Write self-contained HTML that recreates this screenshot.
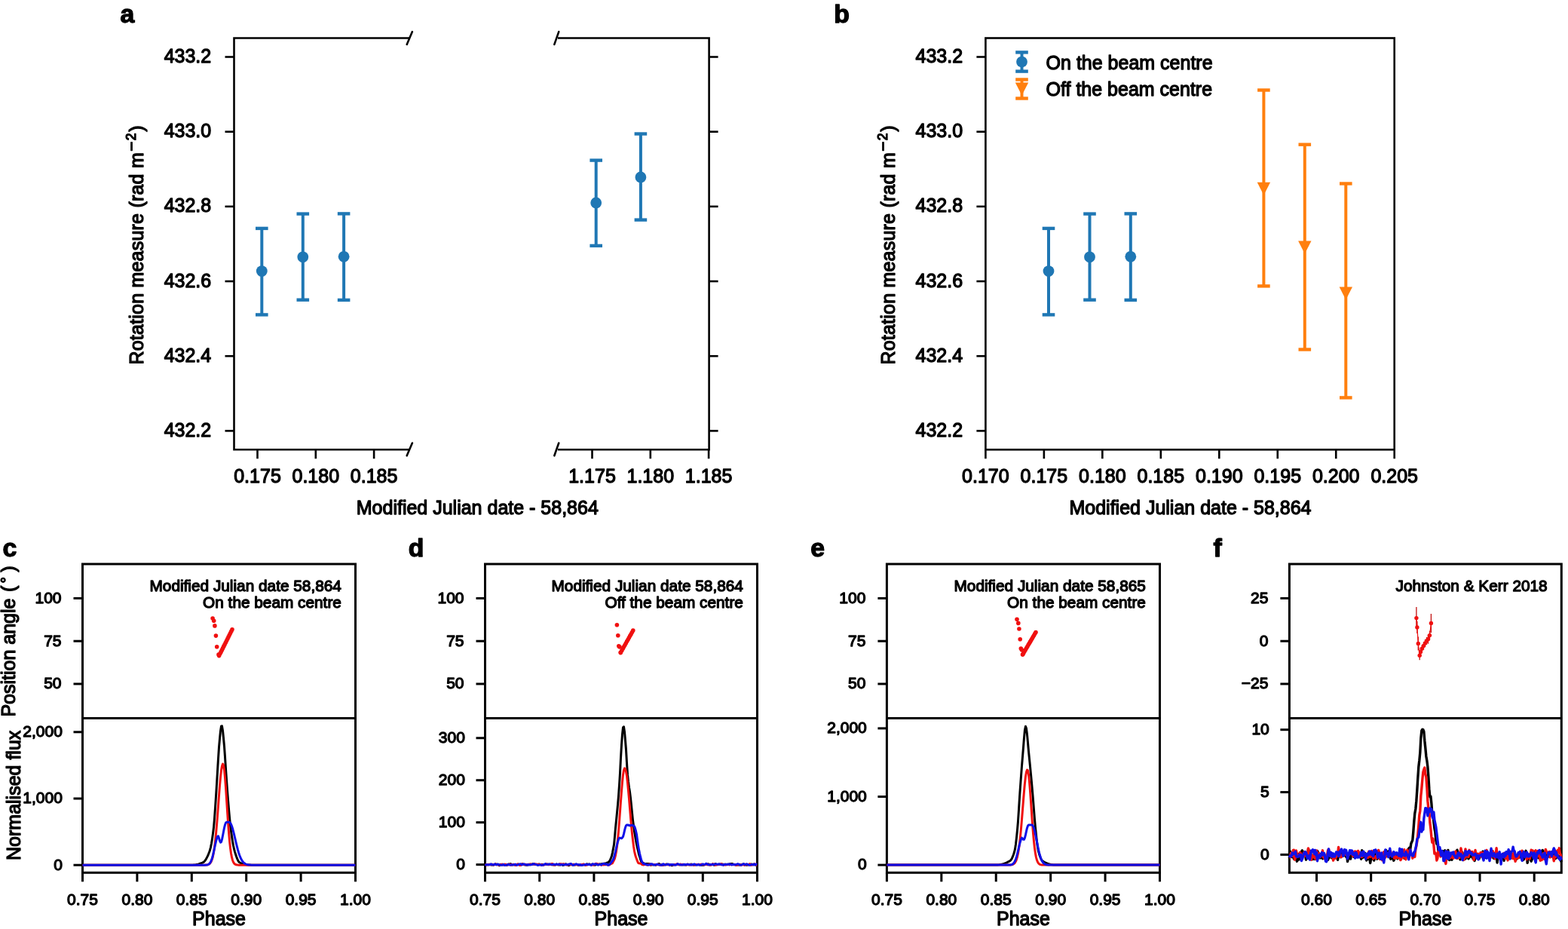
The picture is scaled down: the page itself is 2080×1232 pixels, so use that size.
<!DOCTYPE html>
<html><head><meta charset="utf-8"><title>Rotation measure figure</title>
<style>html,body{margin:0;padding:0;background:#fff;}svg{display:block;}</style>
</head><body>
<svg width="2080" height="1232" viewBox="0 0 2080 1232">
<rect width="2080" height="1232" fill="#fff"/>
<g font-family='"Liberation Sans", Arial, Helvetica, sans-serif' fill="#000" stroke="#000" stroke-width="1.3" stroke-linejoin="round">
<text x="159.6" y="29.7" font-size="33.8" text-anchor="start" font-weight="bold">a</text>
<text x="1106.3" y="30.3" font-size="33.8" text-anchor="start" font-weight="bold">b</text>
<text x="3.6" y="737.8" font-size="33.8" text-anchor="start" font-weight="bold">c</text>
<text x="541.8" y="737.8" font-size="33.8" text-anchor="start" font-weight="bold">d</text>
<text x="1075.2" y="737.8" font-size="33.8" text-anchor="start" font-weight="bold">e</text>
<text x="1609.4" y="737.8" font-size="33.8" text-anchor="start" font-weight="bold">f</text>
<text x="280.2" y="83" font-size="25" text-anchor="end" font-weight="normal">433.2</text>
<text x="1277.1" y="83" font-size="25" text-anchor="end" font-weight="normal">433.2</text>
<text x="280.2" y="182.18" font-size="25" text-anchor="end" font-weight="normal">433.0</text>
<text x="1277.1" y="182.18" font-size="25" text-anchor="end" font-weight="normal">433.0</text>
<text x="280.2" y="281.36" font-size="25" text-anchor="end" font-weight="normal">432.8</text>
<text x="1277.1" y="281.36" font-size="25" text-anchor="end" font-weight="normal">432.8</text>
<text x="280.2" y="380.54" font-size="25" text-anchor="end" font-weight="normal">432.6</text>
<text x="1277.1" y="380.54" font-size="25" text-anchor="end" font-weight="normal">432.6</text>
<text x="280.2" y="479.72" font-size="25" text-anchor="end" font-weight="normal">432.4</text>
<text x="1277.1" y="479.72" font-size="25" text-anchor="end" font-weight="normal">432.4</text>
<text x="280.2" y="578.9" font-size="25" text-anchor="end" font-weight="normal">432.2</text>
<text x="1277.1" y="578.9" font-size="25" text-anchor="end" font-weight="normal">432.2</text>
<text x="341.5" y="640.3" font-size="25" text-anchor="middle" font-weight="normal">0.175</text>
<text x="418.8" y="640.3" font-size="25" text-anchor="middle" font-weight="normal">0.180</text>
<text x="496.1" y="640.3" font-size="25" text-anchor="middle" font-weight="normal">0.185</text>
<text x="785.5" y="640.3" font-size="25" text-anchor="middle" font-weight="normal">1.175</text>
<text x="862.8" y="640.3" font-size="25" text-anchor="middle" font-weight="normal">1.180</text>
<text x="940.1" y="640.3" font-size="25" text-anchor="middle" font-weight="normal">1.185</text>
<text x="1307.4" y="640.3" font-size="25" text-anchor="middle" font-weight="normal">0.170</text>
<text x="1384.87" y="640.3" font-size="25" text-anchor="middle" font-weight="normal">0.175</text>
<text x="1462.34" y="640.3" font-size="25" text-anchor="middle" font-weight="normal">0.180</text>
<text x="1539.81" y="640.3" font-size="25" text-anchor="middle" font-weight="normal">0.185</text>
<text x="1617.29" y="640.3" font-size="25" text-anchor="middle" font-weight="normal">0.190</text>
<text x="1694.76" y="640.3" font-size="25" text-anchor="middle" font-weight="normal">0.195</text>
<text x="1772.23" y="640.3" font-size="25" text-anchor="middle" font-weight="normal">0.200</text>
<text x="1849.7" y="640.3" font-size="25" text-anchor="middle" font-weight="normal">0.205</text>
<text x="633.3" y="682.3" font-size="25" text-anchor="middle" font-weight="normal">Modified Julian date - 58,864</text>
<text x="1579" y="682.3" font-size="25" text-anchor="middle" font-weight="normal">Modified Julian date - 58,864</text>
<text x="189.6" y="483.6" font-size="25" transform="rotate(-90 189.6 483.6)" letter-spacing="0.22">Rotation measure (rad m</text>
<text x="179.9" y="201.4" font-size="17.5" transform="rotate(-90 179.9 201.4)" font-family="DejaVu Sans">−</text>
<text x="179.9" y="186.3" font-size="17.5" transform="rotate(-90 179.9 186.3)">2</text>
<text x="189.6" y="174.8" font-size="25" transform="rotate(-90 189.6 174.8)">)</text>
<text x="1187.2" y="483.6" font-size="25" transform="rotate(-90 1187.2 483.6)" letter-spacing="0.22">Rotation measure (rad m</text>
<text x="1177.5" y="201.4" font-size="17.5" transform="rotate(-90 1177.5 201.4)" font-family="DejaVu Sans">−</text>
<text x="1177.5" y="186.3" font-size="17.5" transform="rotate(-90 1177.5 186.3)">2</text>
<text x="1187.2" y="174.8" font-size="25" transform="rotate(-90 1187.2 174.8)">)</text>
<text x="1387.6" y="91.6" font-size="25" text-anchor="start" font-weight="normal">On the beam centre</text>
<text x="1387.6" y="127.2" font-size="25" text-anchor="start" font-weight="normal">Off the beam centre</text>
<text x="81.5" y="799.72" font-size="21" text-anchor="end" font-weight="normal">100</text>
<text x="81.5" y="856.5" font-size="21" text-anchor="end" font-weight="normal">75</text>
<text x="81.5" y="913.28" font-size="21" text-anchor="end" font-weight="normal">50</text>
<text x="82.9" y="1153.5" font-size="21" text-anchor="end" font-weight="normal">0</text>
<text x="82.9" y="1065.3" font-size="21" text-anchor="end" font-weight="normal">1,000</text>
<text x="82.9" y="977.1" font-size="21" text-anchor="end" font-weight="normal">2,000</text>
<text x="109.5" y="1199.8" font-size="21" text-anchor="middle" font-weight="normal">0.75</text>
<text x="181.9" y="1199.8" font-size="21" text-anchor="middle" font-weight="normal">0.80</text>
<text x="254.3" y="1199.8" font-size="21" text-anchor="middle" font-weight="normal">0.85</text>
<text x="326.7" y="1199.8" font-size="21" text-anchor="middle" font-weight="normal">0.90</text>
<text x="399.1" y="1199.8" font-size="21" text-anchor="middle" font-weight="normal">0.95</text>
<text x="471.5" y="1199.8" font-size="21" text-anchor="middle" font-weight="normal">1.00</text>
<text x="290.5" y="1226.6" font-size="25" text-anchor="middle" font-weight="normal">Phase</text>
<text x="615.5" y="799.72" font-size="21" text-anchor="end" font-weight="normal">100</text>
<text x="615.5" y="856.5" font-size="21" text-anchor="end" font-weight="normal">75</text>
<text x="615.5" y="913.28" font-size="21" text-anchor="end" font-weight="normal">50</text>
<text x="616.9" y="1152.9" font-size="21" text-anchor="end" font-weight="normal">0</text>
<text x="616.9" y="1096.95" font-size="21" text-anchor="end" font-weight="normal">100</text>
<text x="616.9" y="1041" font-size="21" text-anchor="end" font-weight="normal">200</text>
<text x="616.9" y="985.05" font-size="21" text-anchor="end" font-weight="normal">300</text>
<text x="643.5" y="1199.8" font-size="21" text-anchor="middle" font-weight="normal">0.75</text>
<text x="715.7" y="1199.8" font-size="21" text-anchor="middle" font-weight="normal">0.80</text>
<text x="787.9" y="1199.8" font-size="21" text-anchor="middle" font-weight="normal">0.85</text>
<text x="860.1" y="1199.8" font-size="21" text-anchor="middle" font-weight="normal">0.90</text>
<text x="932.3" y="1199.8" font-size="21" text-anchor="middle" font-weight="normal">0.95</text>
<text x="1004.5" y="1199.8" font-size="21" text-anchor="middle" font-weight="normal">1.00</text>
<text x="824" y="1226.6" font-size="25" text-anchor="middle" font-weight="normal">Phase</text>
<text x="1148.4" y="799.72" font-size="21" text-anchor="end" font-weight="normal">100</text>
<text x="1148.4" y="856.5" font-size="21" text-anchor="end" font-weight="normal">75</text>
<text x="1148.4" y="913.28" font-size="21" text-anchor="end" font-weight="normal">50</text>
<text x="1149.8" y="1153.4" font-size="21" text-anchor="end" font-weight="normal">0</text>
<text x="1149.8" y="1062.8" font-size="21" text-anchor="end" font-weight="normal">1,000</text>
<text x="1149.8" y="972.2" font-size="21" text-anchor="end" font-weight="normal">2,000</text>
<text x="1176.4" y="1199.8" font-size="21" text-anchor="middle" font-weight="normal">0.75</text>
<text x="1248.82" y="1199.8" font-size="21" text-anchor="middle" font-weight="normal">0.80</text>
<text x="1321.24" y="1199.8" font-size="21" text-anchor="middle" font-weight="normal">0.85</text>
<text x="1393.66" y="1199.8" font-size="21" text-anchor="middle" font-weight="normal">0.90</text>
<text x="1466.08" y="1199.8" font-size="21" text-anchor="middle" font-weight="normal">0.95</text>
<text x="1538.5" y="1199.8" font-size="21" text-anchor="middle" font-weight="normal">1.00</text>
<text x="1357.45" y="1226.6" font-size="25" text-anchor="middle" font-weight="normal">Phase</text>
<text x="1682.4" y="799.72" font-size="21" text-anchor="end" font-weight="normal">25</text>
<text x="1682.4" y="856.5" font-size="21" text-anchor="end" font-weight="normal">0</text>
<text x="1682.4" y="913.28" font-size="21" text-anchor="end" font-weight="normal">−25</text>
<text x="1683.8" y="1139.7" font-size="21" text-anchor="end" font-weight="normal">0</text>
<text x="1683.8" y="1056.85" font-size="21" text-anchor="end" font-weight="normal">5</text>
<text x="1683.8" y="974" font-size="21" text-anchor="end" font-weight="normal">10</text>
<text x="1746.49" y="1199.8" font-size="21" text-anchor="middle" font-weight="normal">0.60</text>
<text x="1818.67" y="1199.8" font-size="21" text-anchor="middle" font-weight="normal">0.65</text>
<text x="1890.85" y="1199.8" font-size="21" text-anchor="middle" font-weight="normal">0.70</text>
<text x="1963.03" y="1199.8" font-size="21" text-anchor="middle" font-weight="normal">0.75</text>
<text x="2035.21" y="1199.8" font-size="21" text-anchor="middle" font-weight="normal">0.80</text>
<text x="1890.85" y="1226.6" font-size="25" text-anchor="middle" font-weight="normal">Phase</text>
<text x="452.9" y="783.9" font-size="20.8" text-anchor="end" font-weight="normal">Modified Julian date 58,864</text>
<text x="452.9" y="805.9" font-size="20.8" text-anchor="end" font-weight="normal">On the beam centre</text>
<text x="985.9" y="783.9" font-size="20.8" text-anchor="end" font-weight="normal">Modified Julian date 58,864</text>
<text x="985.9" y="805.9" font-size="20.8" text-anchor="end" font-weight="normal">Off the beam centre</text>
<text x="1519.9" y="783.9" font-size="20.8" text-anchor="end" font-weight="normal">Modified Julian date 58,865</text>
<text x="1519.9" y="805.9" font-size="20.8" text-anchor="end" font-weight="normal">On the beam centre</text>
<text x="2052.7" y="783.9" font-size="20.8" text-anchor="end" font-weight="normal">Johnston &amp; Kerr 2018</text>
<text x="19.8" y="950.6" font-size="25" transform="rotate(-90 19.8 950.6)">Position angle</text>
<text x="19.8" y="785" font-size="25" transform="rotate(-90 19.8 785)">(</text>
<text x="15.8" y="773.6" font-size="21" transform="rotate(-90 15.8 773.6)">°</text>
<text x="19.8" y="758.7" font-size="25" transform="rotate(-90 19.8 758.7)">)</text>
<text x="26.8" y="1054.85" font-size="25" text-anchor="middle" font-weight="normal" transform="rotate(-90 26.8 1054.85)">Normalised flux</text>
</g>
<g fill="none" stroke="#000">
<path d="M543 50.5 H310.5 V596.3 H543" stroke-width="2.6" fill="none"/>
<path d="M740 50.5 H940.6 V596.3 H740" stroke-width="2.6" fill="none" stroke-linejoin="miter"/>
<line x1="539.7" y1="58.9" x2="546.9" y2="42.1" stroke="#000" stroke-width="2.6" stroke-linecap="round"/>
<line x1="539.7" y1="604.3" x2="546.9" y2="587.5" stroke="#000" stroke-width="2.6" stroke-linecap="round"/>
<line x1="735.35" y1="58.9" x2="741.25" y2="42.1" stroke="#000" stroke-width="2.6" stroke-linecap="round"/>
<line x1="735.35" y1="604.3" x2="741.25" y2="587.5" stroke="#000" stroke-width="2.6" stroke-linecap="round"/>
<line x1="298.5" y1="75.5" x2="310.5" y2="75.5" stroke="#000" stroke-width="2.6" stroke-linecap="butt"/>
<line x1="940.6" y1="75.5" x2="952.6" y2="75.5" stroke="#000" stroke-width="2.6" stroke-linecap="butt"/>
<line x1="1295.4" y1="75.5" x2="1307.4" y2="75.5" stroke="#000" stroke-width="2.6" stroke-linecap="butt"/>
<line x1="298.5" y1="174.68" x2="310.5" y2="174.68" stroke="#000" stroke-width="2.6" stroke-linecap="butt"/>
<line x1="940.6" y1="174.68" x2="952.6" y2="174.68" stroke="#000" stroke-width="2.6" stroke-linecap="butt"/>
<line x1="1295.4" y1="174.68" x2="1307.4" y2="174.68" stroke="#000" stroke-width="2.6" stroke-linecap="butt"/>
<line x1="298.5" y1="273.86" x2="310.5" y2="273.86" stroke="#000" stroke-width="2.6" stroke-linecap="butt"/>
<line x1="940.6" y1="273.86" x2="952.6" y2="273.86" stroke="#000" stroke-width="2.6" stroke-linecap="butt"/>
<line x1="1295.4" y1="273.86" x2="1307.4" y2="273.86" stroke="#000" stroke-width="2.6" stroke-linecap="butt"/>
<line x1="298.5" y1="373.04" x2="310.5" y2="373.04" stroke="#000" stroke-width="2.6" stroke-linecap="butt"/>
<line x1="940.6" y1="373.04" x2="952.6" y2="373.04" stroke="#000" stroke-width="2.6" stroke-linecap="butt"/>
<line x1="1295.4" y1="373.04" x2="1307.4" y2="373.04" stroke="#000" stroke-width="2.6" stroke-linecap="butt"/>
<line x1="298.5" y1="472.22" x2="310.5" y2="472.22" stroke="#000" stroke-width="2.6" stroke-linecap="butt"/>
<line x1="940.6" y1="472.22" x2="952.6" y2="472.22" stroke="#000" stroke-width="2.6" stroke-linecap="butt"/>
<line x1="1295.4" y1="472.22" x2="1307.4" y2="472.22" stroke="#000" stroke-width="2.6" stroke-linecap="butt"/>
<line x1="298.5" y1="571.4" x2="310.5" y2="571.4" stroke="#000" stroke-width="2.6" stroke-linecap="butt"/>
<line x1="940.6" y1="571.4" x2="952.6" y2="571.4" stroke="#000" stroke-width="2.6" stroke-linecap="butt"/>
<line x1="1295.4" y1="571.4" x2="1307.4" y2="571.4" stroke="#000" stroke-width="2.6" stroke-linecap="butt"/>
<line x1="341.5" y1="596.3" x2="341.5" y2="608.3" stroke="#000" stroke-width="2.6" stroke-linecap="butt"/>
<line x1="785.5" y1="596.3" x2="785.5" y2="608.3" stroke="#000" stroke-width="2.6" stroke-linecap="butt"/>
<line x1="418.8" y1="596.3" x2="418.8" y2="608.3" stroke="#000" stroke-width="2.6" stroke-linecap="butt"/>
<line x1="862.8" y1="596.3" x2="862.8" y2="608.3" stroke="#000" stroke-width="2.6" stroke-linecap="butt"/>
<line x1="496.1" y1="596.3" x2="496.1" y2="608.3" stroke="#000" stroke-width="2.6" stroke-linecap="butt"/>
<line x1="940.1" y1="596.3" x2="940.1" y2="608.3" stroke="#000" stroke-width="2.6" stroke-linecap="butt"/>
<line x1="1307.4" y1="596.3" x2="1307.4" y2="608.3" stroke="#000" stroke-width="2.6" stroke-linecap="butt"/>
<line x1="1384.87" y1="596.3" x2="1384.87" y2="608.3" stroke="#000" stroke-width="2.6" stroke-linecap="butt"/>
<line x1="1462.34" y1="596.3" x2="1462.34" y2="608.3" stroke="#000" stroke-width="2.6" stroke-linecap="butt"/>
<line x1="1539.81" y1="596.3" x2="1539.81" y2="608.3" stroke="#000" stroke-width="2.6" stroke-linecap="butt"/>
<line x1="1617.29" y1="596.3" x2="1617.29" y2="608.3" stroke="#000" stroke-width="2.6" stroke-linecap="butt"/>
<line x1="1694.76" y1="596.3" x2="1694.76" y2="608.3" stroke="#000" stroke-width="2.6" stroke-linecap="butt"/>
<line x1="1772.23" y1="596.3" x2="1772.23" y2="608.3" stroke="#000" stroke-width="2.6" stroke-linecap="butt"/>
<line x1="1849.7" y1="596.3" x2="1849.7" y2="608.3" stroke="#000" stroke-width="2.6" stroke-linecap="butt"/>
<rect x="1307.4" y="50.5" width="542.3" height="545.8" stroke-width="2.6" fill="none"/>
</g>
<g stroke="#1f77b4" fill="#1f77b4">
<line x1="347.3" y1="302.9" x2="347.3" y2="417.4" stroke="#1f77b4" stroke-width="4" stroke-linecap="butt"/>
<line x1="339" y1="302.9" x2="355.6" y2="302.9" stroke="#1f77b4" stroke-width="4.4" stroke-linecap="butt"/>
<line x1="339" y1="417.4" x2="355.6" y2="417.4" stroke="#1f77b4" stroke-width="4.4" stroke-linecap="butt"/>
<circle cx="347.3" cy="359.6" r="7.4" stroke="none"/>
</g>
<g stroke="#1f77b4" fill="#1f77b4">
<line x1="401.8" y1="283.6" x2="401.8" y2="397.7" stroke="#1f77b4" stroke-width="4" stroke-linecap="butt"/>
<line x1="393.5" y1="283.6" x2="410.1" y2="283.6" stroke="#1f77b4" stroke-width="4.4" stroke-linecap="butt"/>
<line x1="393.5" y1="397.7" x2="410.1" y2="397.7" stroke="#1f77b4" stroke-width="4.4" stroke-linecap="butt"/>
<circle cx="401.8" cy="340.8" r="7.4" stroke="none"/>
</g>
<g stroke="#1f77b4" fill="#1f77b4">
<line x1="456.1" y1="283.4" x2="456.1" y2="397.9" stroke="#1f77b4" stroke-width="4" stroke-linecap="butt"/>
<line x1="447.8" y1="283.4" x2="464.4" y2="283.4" stroke="#1f77b4" stroke-width="4.4" stroke-linecap="butt"/>
<line x1="447.8" y1="397.9" x2="464.4" y2="397.9" stroke="#1f77b4" stroke-width="4.4" stroke-linecap="butt"/>
<circle cx="456.1" cy="340.3" r="7.4" stroke="none"/>
</g>
<g stroke="#1f77b4" fill="#1f77b4">
<line x1="790.7" y1="212.6" x2="790.7" y2="325.9" stroke="#1f77b4" stroke-width="4" stroke-linecap="butt"/>
<line x1="782.4" y1="212.6" x2="799" y2="212.6" stroke="#1f77b4" stroke-width="4.4" stroke-linecap="butt"/>
<line x1="782.4" y1="325.9" x2="799" y2="325.9" stroke="#1f77b4" stroke-width="4.4" stroke-linecap="butt"/>
<circle cx="790.7" cy="268.9" r="7.4" stroke="none"/>
</g>
<g stroke="#1f77b4" fill="#1f77b4">
<line x1="849.9" y1="177.5" x2="849.9" y2="291.6" stroke="#1f77b4" stroke-width="4" stroke-linecap="butt"/>
<line x1="841.6" y1="177.5" x2="858.2" y2="177.5" stroke="#1f77b4" stroke-width="4.4" stroke-linecap="butt"/>
<line x1="841.6" y1="291.6" x2="858.2" y2="291.6" stroke="#1f77b4" stroke-width="4.4" stroke-linecap="butt"/>
<circle cx="849.9" cy="234.9" r="7.4" stroke="none"/>
</g>
<g stroke="#1f77b4" fill="#1f77b4">
<line x1="1391" y1="302.9" x2="1391" y2="417.4" stroke="#1f77b4" stroke-width="4" stroke-linecap="butt"/>
<line x1="1382.7" y1="302.9" x2="1399.3" y2="302.9" stroke="#1f77b4" stroke-width="4.4" stroke-linecap="butt"/>
<line x1="1382.7" y1="417.4" x2="1399.3" y2="417.4" stroke="#1f77b4" stroke-width="4.4" stroke-linecap="butt"/>
<circle cx="1391" cy="359.6" r="7.4" stroke="none"/>
</g>
<g stroke="#1f77b4" fill="#1f77b4">
<line x1="1445.5" y1="283.6" x2="1445.5" y2="397.7" stroke="#1f77b4" stroke-width="4" stroke-linecap="butt"/>
<line x1="1437.2" y1="283.6" x2="1453.8" y2="283.6" stroke="#1f77b4" stroke-width="4.4" stroke-linecap="butt"/>
<line x1="1437.2" y1="397.7" x2="1453.8" y2="397.7" stroke="#1f77b4" stroke-width="4.4" stroke-linecap="butt"/>
<circle cx="1445.5" cy="340.8" r="7.4" stroke="none"/>
</g>
<g stroke="#1f77b4" fill="#1f77b4">
<line x1="1499.8" y1="283.4" x2="1499.8" y2="397.9" stroke="#1f77b4" stroke-width="4" stroke-linecap="butt"/>
<line x1="1491.5" y1="283.4" x2="1508.1" y2="283.4" stroke="#1f77b4" stroke-width="4.4" stroke-linecap="butt"/>
<line x1="1491.5" y1="397.9" x2="1508.1" y2="397.9" stroke="#1f77b4" stroke-width="4.4" stroke-linecap="butt"/>
<circle cx="1499.8" cy="340.3" r="7.4" stroke="none"/>
</g>
<g stroke="#ff7f0e" fill="#ff7f0e">
<line x1="1676.4" y1="119.5" x2="1676.4" y2="379.4" stroke="#ff7f0e" stroke-width="4" stroke-linecap="butt"/>
<line x1="1668.1" y1="119.5" x2="1684.7" y2="119.5" stroke="#ff7f0e" stroke-width="4.4" stroke-linecap="butt"/>
<line x1="1668.1" y1="379.4" x2="1684.7" y2="379.4" stroke="#ff7f0e" stroke-width="4.4" stroke-linecap="butt"/>
<path d="M1667.7 241.8 L1685.1 241.8 L1676.4 258.8 Z" stroke="none"/>
</g>
<g stroke="#ff7f0e" fill="#ff7f0e">
<line x1="1730.8" y1="191.7" x2="1730.8" y2="463.5" stroke="#ff7f0e" stroke-width="4" stroke-linecap="butt"/>
<line x1="1722.5" y1="191.7" x2="1739.1" y2="191.7" stroke="#ff7f0e" stroke-width="4.4" stroke-linecap="butt"/>
<line x1="1722.5" y1="463.5" x2="1739.1" y2="463.5" stroke="#ff7f0e" stroke-width="4.4" stroke-linecap="butt"/>
<path d="M1722.1 319.4 L1739.5 319.4 L1730.8 336.4 Z" stroke="none"/>
</g>
<g stroke="#ff7f0e" fill="#ff7f0e">
<line x1="1785.3" y1="243.5" x2="1785.3" y2="527.4" stroke="#ff7f0e" stroke-width="4" stroke-linecap="butt"/>
<line x1="1777" y1="243.5" x2="1793.6" y2="243.5" stroke="#ff7f0e" stroke-width="4.4" stroke-linecap="butt"/>
<line x1="1777" y1="527.4" x2="1793.6" y2="527.4" stroke="#ff7f0e" stroke-width="4.4" stroke-linecap="butt"/>
<path d="M1776.6 380.4 L1794 380.4 L1785.3 397.4 Z" stroke="none"/>
</g>
<g stroke="#1f77b4" fill="#1f77b4">
<line x1="1355.5" y1="69.4" x2="1355.5" y2="94.6" stroke="#1f77b4" stroke-width="4" stroke-linecap="butt"/>
<line x1="1347.2" y1="69.4" x2="1363.8" y2="69.4" stroke="#1f77b4" stroke-width="4.4" stroke-linecap="butt"/>
<line x1="1347.2" y1="94.6" x2="1363.8" y2="94.6" stroke="#1f77b4" stroke-width="4.4" stroke-linecap="butt"/>
<circle cx="1355.5" cy="82.1" r="7.4" stroke="none"/>
</g>
<g stroke="#ff7f0e" fill="#ff7f0e">
<line x1="1355.5" y1="105.5" x2="1355.5" y2="130.5" stroke="#ff7f0e" stroke-width="4" stroke-linecap="butt"/>
<line x1="1347.2" y1="105.5" x2="1363.8" y2="105.5" stroke="#ff7f0e" stroke-width="4.4" stroke-linecap="butt"/>
<line x1="1347.2" y1="130.5" x2="1363.8" y2="130.5" stroke="#ff7f0e" stroke-width="4.4" stroke-linecap="butt"/>
<path d="M1346.8 109.5 L1364.2 109.5 L1355.5 126.5 Z" stroke="none"/>
</g>
<g fill="none" stroke="#000" stroke-width="3.0">
<rect x="109.5" y="748" width="362" height="409.3" fill="none"/>
<line x1="109.5" y1="952.4" x2="471.5" y2="952.4" stroke="#000" stroke-width="3" stroke-linecap="butt"/>
<line x1="97.5" y1="793.42" x2="109.5" y2="793.42" stroke="#000" stroke-width="3" stroke-linecap="butt"/>
<line x1="97.5" y1="850.2" x2="109.5" y2="850.2" stroke="#000" stroke-width="3" stroke-linecap="butt"/>
<line x1="97.5" y1="906.98" x2="109.5" y2="906.98" stroke="#000" stroke-width="3" stroke-linecap="butt"/>
<line x1="97.5" y1="1147.2" x2="109.5" y2="1147.2" stroke="#000" stroke-width="3" stroke-linecap="butt"/>
<line x1="97.5" y1="1059" x2="109.5" y2="1059" stroke="#000" stroke-width="3" stroke-linecap="butt"/>
<line x1="97.5" y1="970.8" x2="109.5" y2="970.8" stroke="#000" stroke-width="3" stroke-linecap="butt"/>
<line x1="109.5" y1="1157.3" x2="109.5" y2="1169.3" stroke="#000" stroke-width="3" stroke-linecap="butt"/>
<line x1="181.9" y1="1157.3" x2="181.9" y2="1169.3" stroke="#000" stroke-width="3" stroke-linecap="butt"/>
<line x1="254.3" y1="1157.3" x2="254.3" y2="1169.3" stroke="#000" stroke-width="3" stroke-linecap="butt"/>
<line x1="326.7" y1="1157.3" x2="326.7" y2="1169.3" stroke="#000" stroke-width="3" stroke-linecap="butt"/>
<line x1="399.1" y1="1157.3" x2="399.1" y2="1169.3" stroke="#000" stroke-width="3" stroke-linecap="butt"/>
<line x1="471.5" y1="1157.3" x2="471.5" y2="1169.3" stroke="#000" stroke-width="3" stroke-linecap="butt"/>
</g>
<g fill="none" stroke="#000" stroke-width="3.0">
<rect x="643.5" y="748" width="361" height="409.3" fill="none"/>
<line x1="643.5" y1="952.4" x2="1004.5" y2="952.4" stroke="#000" stroke-width="3" stroke-linecap="butt"/>
<line x1="631.5" y1="793.42" x2="643.5" y2="793.42" stroke="#000" stroke-width="3" stroke-linecap="butt"/>
<line x1="631.5" y1="850.2" x2="643.5" y2="850.2" stroke="#000" stroke-width="3" stroke-linecap="butt"/>
<line x1="631.5" y1="906.98" x2="643.5" y2="906.98" stroke="#000" stroke-width="3" stroke-linecap="butt"/>
<line x1="631.5" y1="1146.6" x2="643.5" y2="1146.6" stroke="#000" stroke-width="3" stroke-linecap="butt"/>
<line x1="631.5" y1="1090.65" x2="643.5" y2="1090.65" stroke="#000" stroke-width="3" stroke-linecap="butt"/>
<line x1="631.5" y1="1034.7" x2="643.5" y2="1034.7" stroke="#000" stroke-width="3" stroke-linecap="butt"/>
<line x1="631.5" y1="978.75" x2="643.5" y2="978.75" stroke="#000" stroke-width="3" stroke-linecap="butt"/>
<line x1="643.5" y1="1157.3" x2="643.5" y2="1169.3" stroke="#000" stroke-width="3" stroke-linecap="butt"/>
<line x1="715.7" y1="1157.3" x2="715.7" y2="1169.3" stroke="#000" stroke-width="3" stroke-linecap="butt"/>
<line x1="787.9" y1="1157.3" x2="787.9" y2="1169.3" stroke="#000" stroke-width="3" stroke-linecap="butt"/>
<line x1="860.1" y1="1157.3" x2="860.1" y2="1169.3" stroke="#000" stroke-width="3" stroke-linecap="butt"/>
<line x1="932.3" y1="1157.3" x2="932.3" y2="1169.3" stroke="#000" stroke-width="3" stroke-linecap="butt"/>
<line x1="1004.5" y1="1157.3" x2="1004.5" y2="1169.3" stroke="#000" stroke-width="3" stroke-linecap="butt"/>
</g>
<g fill="none" stroke="#000" stroke-width="3.0">
<rect x="1176.4" y="748" width="362.1" height="409.3" fill="none"/>
<line x1="1176.4" y1="952.4" x2="1538.5" y2="952.4" stroke="#000" stroke-width="3" stroke-linecap="butt"/>
<line x1="1164.4" y1="793.42" x2="1176.4" y2="793.42" stroke="#000" stroke-width="3" stroke-linecap="butt"/>
<line x1="1164.4" y1="850.2" x2="1176.4" y2="850.2" stroke="#000" stroke-width="3" stroke-linecap="butt"/>
<line x1="1164.4" y1="906.98" x2="1176.4" y2="906.98" stroke="#000" stroke-width="3" stroke-linecap="butt"/>
<line x1="1164.4" y1="1147.1" x2="1176.4" y2="1147.1" stroke="#000" stroke-width="3" stroke-linecap="butt"/>
<line x1="1164.4" y1="1056.5" x2="1176.4" y2="1056.5" stroke="#000" stroke-width="3" stroke-linecap="butt"/>
<line x1="1164.4" y1="965.9" x2="1176.4" y2="965.9" stroke="#000" stroke-width="3" stroke-linecap="butt"/>
<line x1="1176.4" y1="1157.3" x2="1176.4" y2="1169.3" stroke="#000" stroke-width="3" stroke-linecap="butt"/>
<line x1="1248.82" y1="1157.3" x2="1248.82" y2="1169.3" stroke="#000" stroke-width="3" stroke-linecap="butt"/>
<line x1="1321.24" y1="1157.3" x2="1321.24" y2="1169.3" stroke="#000" stroke-width="3" stroke-linecap="butt"/>
<line x1="1393.66" y1="1157.3" x2="1393.66" y2="1169.3" stroke="#000" stroke-width="3" stroke-linecap="butt"/>
<line x1="1466.08" y1="1157.3" x2="1466.08" y2="1169.3" stroke="#000" stroke-width="3" stroke-linecap="butt"/>
<line x1="1538.5" y1="1157.3" x2="1538.5" y2="1169.3" stroke="#000" stroke-width="3" stroke-linecap="butt"/>
</g>
<g fill="none" stroke="#000" stroke-width="3.0">
<rect x="1710.4" y="748" width="360.9" height="409.3" fill="none"/>
<line x1="1710.4" y1="952.4" x2="2071.3" y2="952.4" stroke="#000" stroke-width="3" stroke-linecap="butt"/>
<line x1="1698.4" y1="793.42" x2="1710.4" y2="793.42" stroke="#000" stroke-width="3" stroke-linecap="butt"/>
<line x1="1698.4" y1="850.2" x2="1710.4" y2="850.2" stroke="#000" stroke-width="3" stroke-linecap="butt"/>
<line x1="1698.4" y1="906.98" x2="1710.4" y2="906.98" stroke="#000" stroke-width="3" stroke-linecap="butt"/>
<line x1="1698.4" y1="1133.4" x2="1710.4" y2="1133.4" stroke="#000" stroke-width="3" stroke-linecap="butt"/>
<line x1="1698.4" y1="1050.55" x2="1710.4" y2="1050.55" stroke="#000" stroke-width="3" stroke-linecap="butt"/>
<line x1="1698.4" y1="967.7" x2="1710.4" y2="967.7" stroke="#000" stroke-width="3" stroke-linecap="butt"/>
<line x1="1746.49" y1="1157.3" x2="1746.49" y2="1169.3" stroke="#000" stroke-width="3" stroke-linecap="butt"/>
<line x1="1818.67" y1="1157.3" x2="1818.67" y2="1169.3" stroke="#000" stroke-width="3" stroke-linecap="butt"/>
<line x1="1890.85" y1="1157.3" x2="1890.85" y2="1169.3" stroke="#000" stroke-width="3" stroke-linecap="butt"/>
<line x1="1963.03" y1="1157.3" x2="1963.03" y2="1169.3" stroke="#000" stroke-width="3" stroke-linecap="butt"/>
<line x1="2035.21" y1="1157.3" x2="2035.21" y2="1169.3" stroke="#000" stroke-width="3" stroke-linecap="butt"/>
</g>
<g fill="none" stroke-width="3" stroke-linejoin="round">
<polyline stroke="#000" points="109.5,1147.2 110.5,1147.2 111.5,1147.2 112.5,1147.2 113.5,1147.2 114.5,1147.2 115.5,1147.2 116.5,1147.2 117.5,1147.2 118.5,1147.2 119.5,1147.2 120.5,1147.2 121.5,1147.2 122.5,1147.2 123.5,1147.2 124.5,1147.2 125.5,1147.2 126.5,1147.2 127.5,1147.2 128.5,1147.2 129.5,1147.2 130.5,1147.2 131.5,1147.2 132.5,1147.2 133.5,1147.2 134.5,1147.2 135.5,1147.2 136.5,1147.2 137.5,1147.2 138.5,1147.2 139.5,1147.2 140.5,1147.2 141.5,1147.2 142.5,1147.2 143.5,1147.2 144.5,1147.2 145.5,1147.2 146.5,1147.2 147.5,1147.2 148.5,1147.2 149.5,1147.2 150.5,1147.2 151.5,1147.2 152.5,1147.2 153.5,1147.2 154.5,1147.2 155.5,1147.2 156.5,1147.2 157.5,1147.2 158.5,1147.2 159.5,1147.2 160.5,1147.2 161.5,1147.2 162.5,1147.2 163.5,1147.2 164.5,1147.2 165.5,1147.2 166.5,1147.2 167.5,1147.2 168.5,1147.2 169.5,1147.2 170.5,1147.2 171.5,1147.2 172.5,1147.2 173.5,1147.2 174.5,1147.2 175.5,1147.2 176.5,1147.2 177.5,1147.2 178.5,1147.2 179.5,1147.2 180.5,1147.2 181.5,1147.2 182.5,1147.2 183.5,1147.2 184.5,1147.2 185.5,1147.2 186.5,1147.2 187.5,1147.2 188.5,1147.2 189.5,1147.2 190.5,1147.2 191.5,1147.2 192.5,1147.2 193.5,1147.2 194.5,1147.2 195.5,1147.2 196.5,1147.2 197.5,1147.2 198.5,1147.2 199.5,1147.2 200.5,1147.2 201.5,1147.2 202.5,1147.2 203.5,1147.2 204.5,1147.2 205.5,1147.2 206.5,1147.2 207.5,1147.2 208.5,1147.2 209.5,1147.2 210.5,1147.2 211.5,1147.2 212.5,1147.2 213.5,1147.2 214.5,1147.2 215.5,1147.2 216.5,1147.2 217.5,1147.2 218.5,1147.2 219.5,1147.2 220.5,1147.2 221.5,1147.2 222.5,1147.2 223.5,1147.2 224.5,1147.2 225.5,1147.2 226.5,1147.2 227.5,1147.2 228.5,1147.2 229.5,1147.2 230.5,1147.2 231.5,1147.2 232.5,1147.2 233.5,1147.2 234.5,1147.2 235.5,1147.2 236.5,1147.2 237.5,1147.2 238.5,1147.2 239.5,1147.2 240.5,1147.2 241.5,1147.2 242.5,1147.2 243.5,1147.2 244.5,1147.2 245.5,1147.2 246.5,1147.2 247.5,1147.2 248.5,1147.2 249.5,1147.2 250.5,1147.2 251.5,1147.2 252.5,1147.2 253.5,1147.2 254.5,1147.2 255.5,1147.16 256.5,1147.1 257.5,1147.01 258.5,1146.88 259.5,1146.73 260.5,1146.55 261.5,1146.34 262.5,1146.1 263.5,1145.84 264.5,1145.55 265.5,1145.23 266.5,1144.89 267.5,1144.53 268.5,1144.14 269.5,1143.69 270.5,1142.96 271.5,1141.92 272.5,1140.6 273.5,1139.01 274.5,1137.16 275.5,1135.08 276.5,1132.78 277.5,1130.27 278.5,1127.44 279.5,1123.54 280.5,1118.51 281.5,1112.43 282.5,1105.39 283.5,1097.26 284.5,1085.64 285.5,1071.24 286.5,1056 287.5,1040.01 288.5,1022.99 289.5,1006.27 290.5,990.8 291.5,979.52 292.5,969.36 293.5,962.92 294.5,962.87 295.5,969.01 296.5,978.76 297.5,989.53 298.5,1003.88 299.5,1019.52 300.5,1034.09 301.5,1048.08 302.5,1060.67 303.5,1072.79 304.5,1084.14 305.5,1094.1 306.5,1102.16 307.5,1109.25 308.5,1115.66 309.5,1121.28 310.5,1125.96 311.5,1129.6 312.5,1132.79 313.5,1135.78 314.5,1138.46 315.5,1140.73 316.5,1142.49 317.5,1143.63 318.5,1144.14 319.5,1144.54 320.5,1144.9 321.5,1145.24 322.5,1145.55 323.5,1145.83 324.5,1146.08 325.5,1146.31 326.5,1146.51 327.5,1146.68 328.5,1146.83 329.5,1146.95 330.5,1147.05 331.5,1147.12 332.5,1147.17 333.5,1147.2 334.5,1147.2 335.5,1147.2 336.5,1147.2 337.5,1147.2 338.5,1147.2 339.5,1147.2 340.5,1147.2 341.5,1147.2 342.5,1147.2 343.5,1147.2 344.5,1147.2 345.5,1147.2 346.5,1147.2 347.5,1147.2 348.5,1147.2 349.5,1147.2 350.5,1147.2 351.5,1147.2 352.5,1147.2 353.5,1147.2 354.5,1147.2 355.5,1147.2 356.5,1147.2 357.5,1147.2 358.5,1147.2 359.5,1147.2 360.5,1147.2 361.5,1147.2 362.5,1147.2 363.5,1147.2 364.5,1147.2 365.5,1147.2 366.5,1147.2 367.5,1147.2 368.5,1147.2 369.5,1147.2 370.5,1147.2 371.5,1147.2 372.5,1147.2 373.5,1147.2 374.5,1147.2 375.5,1147.2 376.5,1147.2 377.5,1147.2 378.5,1147.2 379.5,1147.2 380.5,1147.2 381.5,1147.2 382.5,1147.2 383.5,1147.2 384.5,1147.2 385.5,1147.2 386.5,1147.2 387.5,1147.2 388.5,1147.2 389.5,1147.2 390.5,1147.2 391.5,1147.2 392.5,1147.2 393.5,1147.2 394.5,1147.2 395.5,1147.2 396.5,1147.2 397.5,1147.2 398.5,1147.2 399.5,1147.2 400.5,1147.2 401.5,1147.2 402.5,1147.2 403.5,1147.2 404.5,1147.2 405.5,1147.2 406.5,1147.2 407.5,1147.2 408.5,1147.2 409.5,1147.2 410.5,1147.2 411.5,1147.2 412.5,1147.2 413.5,1147.2 414.5,1147.2 415.5,1147.2 416.5,1147.2 417.5,1147.2 418.5,1147.2 419.5,1147.2 420.5,1147.2 421.5,1147.2 422.5,1147.2 423.5,1147.2 424.5,1147.2 425.5,1147.2 426.5,1147.2 427.5,1147.2 428.5,1147.2 429.5,1147.2 430.5,1147.2 431.5,1147.2 432.5,1147.2 433.5,1147.2 434.5,1147.2 435.5,1147.2 436.5,1147.2 437.5,1147.2 438.5,1147.2 439.5,1147.2 440.5,1147.2 441.5,1147.2 442.5,1147.2 443.5,1147.2 444.5,1147.2 445.5,1147.2 446.5,1147.2 447.5,1147.2 448.5,1147.2 449.5,1147.2 450.5,1147.2 451.5,1147.2 452.5,1147.2 453.5,1147.2 454.5,1147.2 455.5,1147.2 456.5,1147.2 457.5,1147.2 458.5,1147.2 459.5,1147.2 460.5,1147.2 461.5,1147.2 462.5,1147.2 463.5,1147.2 464.5,1147.2 465.5,1147.2 466.5,1147.2 467.5,1147.2 468.5,1147.2 469.5,1147.2 470.5,1147.2 471.5,1147.2"/>
<polyline stroke="#f01010" points="109.5,1147.2 110.5,1147.2 111.5,1147.2 112.5,1147.2 113.5,1147.2 114.5,1147.2 115.5,1147.2 116.5,1147.2 117.5,1147.2 118.5,1147.2 119.5,1147.2 120.5,1147.2 121.5,1147.2 122.5,1147.2 123.5,1147.2 124.5,1147.2 125.5,1147.2 126.5,1147.2 127.5,1147.2 128.5,1147.2 129.5,1147.2 130.5,1147.2 131.5,1147.2 132.5,1147.2 133.5,1147.2 134.5,1147.2 135.5,1147.2 136.5,1147.2 137.5,1147.2 138.5,1147.2 139.5,1147.2 140.5,1147.2 141.5,1147.2 142.5,1147.2 143.5,1147.2 144.5,1147.2 145.5,1147.2 146.5,1147.2 147.5,1147.2 148.5,1147.2 149.5,1147.2 150.5,1147.2 151.5,1147.2 152.5,1147.2 153.5,1147.2 154.5,1147.2 155.5,1147.2 156.5,1147.2 157.5,1147.2 158.5,1147.2 159.5,1147.2 160.5,1147.2 161.5,1147.2 162.5,1147.2 163.5,1147.2 164.5,1147.2 165.5,1147.2 166.5,1147.2 167.5,1147.2 168.5,1147.2 169.5,1147.2 170.5,1147.2 171.5,1147.2 172.5,1147.2 173.5,1147.2 174.5,1147.2 175.5,1147.2 176.5,1147.2 177.5,1147.2 178.5,1147.2 179.5,1147.2 180.5,1147.2 181.5,1147.2 182.5,1147.2 183.5,1147.2 184.5,1147.2 185.5,1147.2 186.5,1147.2 187.5,1147.2 188.5,1147.2 189.5,1147.2 190.5,1147.2 191.5,1147.2 192.5,1147.2 193.5,1147.2 194.5,1147.2 195.5,1147.2 196.5,1147.2 197.5,1147.2 198.5,1147.2 199.5,1147.2 200.5,1147.2 201.5,1147.2 202.5,1147.2 203.5,1147.2 204.5,1147.2 205.5,1147.2 206.5,1147.2 207.5,1147.2 208.5,1147.2 209.5,1147.2 210.5,1147.2 211.5,1147.2 212.5,1147.2 213.5,1147.2 214.5,1147.2 215.5,1147.2 216.5,1147.2 217.5,1147.2 218.5,1147.2 219.5,1147.2 220.5,1147.2 221.5,1147.2 222.5,1147.2 223.5,1147.2 224.5,1147.2 225.5,1147.2 226.5,1147.2 227.5,1147.2 228.5,1147.2 229.5,1147.2 230.5,1147.2 231.5,1147.2 232.5,1147.2 233.5,1147.2 234.5,1147.2 235.5,1147.2 236.5,1147.2 237.5,1147.2 238.5,1147.2 239.5,1147.2 240.5,1147.2 241.5,1147.2 242.5,1147.2 243.5,1147.2 244.5,1147.2 245.5,1147.2 246.5,1147.2 247.5,1147.2 248.5,1147.2 249.5,1147.2 250.5,1147.2 251.5,1147.2 252.5,1147.2 253.5,1147.2 254.5,1147.2 255.5,1147.2 256.5,1147.2 257.5,1147.2 258.5,1147.2 259.5,1147.2 260.5,1147.2 261.5,1147.2 262.5,1147.2 263.5,1147.2 264.5,1147.2 265.5,1147.2 266.5,1147.2 267.5,1147.2 268.5,1147.2 269.5,1147.19 270.5,1147.18 271.5,1147.16 272.5,1147.12 273.5,1147.06 274.5,1146.94 275.5,1146.74 276.5,1146.4 277.5,1145.85 278.5,1145 279.5,1143.7 280.5,1141.78 281.5,1139.05 282.5,1135.27 283.5,1130.22 284.5,1123.71 285.5,1115.57 286.5,1105.79 287.5,1094.48 288.5,1081.9 289.5,1068.54 290.5,1055.05 291.5,1042.2 292.5,1030.83 293.5,1021.77 294.5,1015.7 295.5,1013.12 296.5,1014.63 297.5,1020.85 298.5,1031.15 299.5,1044.48 300.5,1059.59 301.5,1075.18 302.5,1090.15 303.5,1103.65 304.5,1115.16 305.5,1124.48 306.5,1131.68 307.5,1136.98 308.5,1140.72 309.5,1143.23 310.5,1144.86 311.5,1145.87 312.5,1146.47 313.5,1146.82 314.5,1147.01 315.5,1147.1 316.5,1147.15 317.5,1147.18 318.5,1147.19 319.5,1147.2 320.5,1147.2 321.5,1147.2 322.5,1147.2 323.5,1147.2 324.5,1147.2 325.5,1147.2 326.5,1147.2 327.5,1147.2 328.5,1147.2 329.5,1147.2 330.5,1147.2 331.5,1147.2 332.5,1147.2 333.5,1147.2 334.5,1147.2 335.5,1147.2 336.5,1147.2 337.5,1147.2 338.5,1147.2 339.5,1147.2 340.5,1147.2 341.5,1147.2 342.5,1147.2 343.5,1147.2 344.5,1147.2 345.5,1147.2 346.5,1147.2 347.5,1147.2 348.5,1147.2 349.5,1147.2 350.5,1147.2 351.5,1147.2 352.5,1147.2 353.5,1147.2 354.5,1147.2 355.5,1147.2 356.5,1147.2 357.5,1147.2 358.5,1147.2 359.5,1147.2 360.5,1147.2 361.5,1147.2 362.5,1147.2 363.5,1147.2 364.5,1147.2 365.5,1147.2 366.5,1147.2 367.5,1147.2 368.5,1147.2 369.5,1147.2 370.5,1147.2 371.5,1147.2 372.5,1147.2 373.5,1147.2 374.5,1147.2 375.5,1147.2 376.5,1147.2 377.5,1147.2 378.5,1147.2 379.5,1147.2 380.5,1147.2 381.5,1147.2 382.5,1147.2 383.5,1147.2 384.5,1147.2 385.5,1147.2 386.5,1147.2 387.5,1147.2 388.5,1147.2 389.5,1147.2 390.5,1147.2 391.5,1147.2 392.5,1147.2 393.5,1147.2 394.5,1147.2 395.5,1147.2 396.5,1147.2 397.5,1147.2 398.5,1147.2 399.5,1147.2 400.5,1147.2 401.5,1147.2 402.5,1147.2 403.5,1147.2 404.5,1147.2 405.5,1147.2 406.5,1147.2 407.5,1147.2 408.5,1147.2 409.5,1147.2 410.5,1147.2 411.5,1147.2 412.5,1147.2 413.5,1147.2 414.5,1147.2 415.5,1147.2 416.5,1147.2 417.5,1147.2 418.5,1147.2 419.5,1147.2 420.5,1147.2 421.5,1147.2 422.5,1147.2 423.5,1147.2 424.5,1147.2 425.5,1147.2 426.5,1147.2 427.5,1147.2 428.5,1147.2 429.5,1147.2 430.5,1147.2 431.5,1147.2 432.5,1147.2 433.5,1147.2 434.5,1147.2 435.5,1147.2 436.5,1147.2 437.5,1147.2 438.5,1147.2 439.5,1147.2 440.5,1147.2 441.5,1147.2 442.5,1147.2 443.5,1147.2 444.5,1147.2 445.5,1147.2 446.5,1147.2 447.5,1147.2 448.5,1147.2 449.5,1147.2 450.5,1147.2 451.5,1147.2 452.5,1147.2 453.5,1147.2 454.5,1147.2 455.5,1147.2 456.5,1147.2 457.5,1147.2 458.5,1147.2 459.5,1147.2 460.5,1147.2 461.5,1147.2 462.5,1147.2 463.5,1147.2 464.5,1147.2 465.5,1147.2 466.5,1147.2 467.5,1147.2 468.5,1147.2 469.5,1147.2 470.5,1147.2 471.5,1147.2"/>
<polyline stroke="#1010e8" points="109.5,1147.2 110.5,1147.2 111.5,1147.2 112.5,1147.2 113.5,1147.2 114.5,1147.2 115.5,1147.2 116.5,1147.2 117.5,1147.2 118.5,1147.2 119.5,1147.2 120.5,1147.2 121.5,1147.2 122.5,1147.2 123.5,1147.2 124.5,1147.2 125.5,1147.2 126.5,1147.2 127.5,1147.2 128.5,1147.2 129.5,1147.2 130.5,1147.2 131.5,1147.2 132.5,1147.2 133.5,1147.2 134.5,1147.2 135.5,1147.2 136.5,1147.2 137.5,1147.2 138.5,1147.2 139.5,1147.2 140.5,1147.2 141.5,1147.2 142.5,1147.2 143.5,1147.2 144.5,1147.2 145.5,1147.2 146.5,1147.2 147.5,1147.2 148.5,1147.2 149.5,1147.2 150.5,1147.2 151.5,1147.2 152.5,1147.2 153.5,1147.2 154.5,1147.2 155.5,1147.2 156.5,1147.2 157.5,1147.2 158.5,1147.2 159.5,1147.2 160.5,1147.2 161.5,1147.2 162.5,1147.2 163.5,1147.2 164.5,1147.2 165.5,1147.2 166.5,1147.2 167.5,1147.2 168.5,1147.2 169.5,1147.2 170.5,1147.2 171.5,1147.2 172.5,1147.2 173.5,1147.2 174.5,1147.2 175.5,1147.2 176.5,1147.2 177.5,1147.2 178.5,1147.2 179.5,1147.2 180.5,1147.2 181.5,1147.2 182.5,1147.2 183.5,1147.2 184.5,1147.2 185.5,1147.2 186.5,1147.2 187.5,1147.2 188.5,1147.2 189.5,1147.2 190.5,1147.2 191.5,1147.2 192.5,1147.2 193.5,1147.2 194.5,1147.2 195.5,1147.2 196.5,1147.2 197.5,1147.2 198.5,1147.2 199.5,1147.2 200.5,1147.2 201.5,1147.2 202.5,1147.2 203.5,1147.2 204.5,1147.2 205.5,1147.2 206.5,1147.2 207.5,1147.2 208.5,1147.2 209.5,1147.2 210.5,1147.2 211.5,1147.2 212.5,1147.2 213.5,1147.2 214.5,1147.2 215.5,1147.2 216.5,1147.2 217.5,1147.2 218.5,1147.2 219.5,1147.2 220.5,1147.2 221.5,1147.2 222.5,1147.2 223.5,1147.2 224.5,1147.2 225.5,1147.2 226.5,1147.2 227.5,1147.2 228.5,1147.2 229.5,1147.2 230.5,1147.2 231.5,1147.2 232.5,1147.2 233.5,1147.2 234.5,1147.2 235.5,1147.2 236.5,1147.2 237.5,1147.2 238.5,1147.2 239.5,1147.2 240.5,1147.2 241.5,1147.2 242.5,1147.2 243.5,1147.2 244.5,1147.2 245.5,1147.2 246.5,1147.2 247.5,1147.2 248.5,1147.2 249.5,1147.2 250.5,1147.2 251.5,1147.2 252.5,1147.2 253.5,1147.2 254.5,1147.2 255.5,1147.2 256.5,1147.2 257.5,1147.2 258.5,1147.2 259.5,1147.2 260.5,1147.2 261.5,1147.2 262.5,1147.2 263.5,1147.2 264.5,1147.2 265.5,1147.2 266.5,1147.2 267.5,1147.2 268.5,1147.2 269.5,1147.2 270.5,1147.19 271.5,1147.18 272.5,1147.15 273.5,1147.08 274.5,1146.96 275.5,1146.73 276.5,1146.33 277.5,1145.65 278.5,1144.58 279.5,1142.98 280.5,1140.73 281.5,1137.75 282.5,1134.03 283.5,1129.7 284.5,1124.98 285.5,1120.23 286.5,1115.83 287.5,1112.11 288.5,1109.29 289.5,1108.76 290.5,1111.53 291.5,1115.14 292.5,1117.16 293.5,1116.44 294.5,1113.17 295.5,1108.3 296.5,1102.9 297.5,1097.86 298.5,1093.81 299.5,1091.21 300.5,1090.31 301.5,1090.31 302.5,1090.31 303.5,1090.31 304.5,1090.42 305.5,1091.3 306.5,1093.02 307.5,1095.5 308.5,1098.64 309.5,1102.28 310.5,1106.3 311.5,1110.54 312.5,1114.85 313.5,1119.09 314.5,1123.16 315.5,1126.96 316.5,1130.42 317.5,1133.5 318.5,1136.19 319.5,1138.49 320.5,1140.42 321.5,1142 322.5,1143.28 323.5,1144.28 324.5,1145.07 325.5,1145.66 326.5,1146.11 327.5,1146.44 328.5,1146.68 329.5,1146.85 330.5,1146.96 331.5,1147.05 332.5,1147.1 333.5,1147.14 334.5,1147.16 335.5,1147.18 336.5,1147.19 337.5,1147.19 338.5,1147.19 339.5,1147.2 340.5,1147.2 341.5,1147.2 342.5,1147.2 343.5,1147.2 344.5,1147.2 345.5,1147.2 346.5,1147.2 347.5,1147.2 348.5,1147.2 349.5,1147.2 350.5,1147.2 351.5,1147.2 352.5,1147.2 353.5,1147.2 354.5,1147.2 355.5,1147.2 356.5,1147.2 357.5,1147.2 358.5,1147.2 359.5,1147.2 360.5,1147.2 361.5,1147.2 362.5,1147.2 363.5,1147.2 364.5,1147.2 365.5,1147.2 366.5,1147.2 367.5,1147.2 368.5,1147.2 369.5,1147.2 370.5,1147.2 371.5,1147.2 372.5,1147.2 373.5,1147.2 374.5,1147.2 375.5,1147.2 376.5,1147.2 377.5,1147.2 378.5,1147.2 379.5,1147.2 380.5,1147.2 381.5,1147.2 382.5,1147.2 383.5,1147.2 384.5,1147.2 385.5,1147.2 386.5,1147.2 387.5,1147.2 388.5,1147.2 389.5,1147.2 390.5,1147.2 391.5,1147.2 392.5,1147.2 393.5,1147.2 394.5,1147.2 395.5,1147.2 396.5,1147.2 397.5,1147.2 398.5,1147.2 399.5,1147.2 400.5,1147.2 401.5,1147.2 402.5,1147.2 403.5,1147.2 404.5,1147.2 405.5,1147.2 406.5,1147.2 407.5,1147.2 408.5,1147.2 409.5,1147.2 410.5,1147.2 411.5,1147.2 412.5,1147.2 413.5,1147.2 414.5,1147.2 415.5,1147.2 416.5,1147.2 417.5,1147.2 418.5,1147.2 419.5,1147.2 420.5,1147.2 421.5,1147.2 422.5,1147.2 423.5,1147.2 424.5,1147.2 425.5,1147.2 426.5,1147.2 427.5,1147.2 428.5,1147.2 429.5,1147.2 430.5,1147.2 431.5,1147.2 432.5,1147.2 433.5,1147.2 434.5,1147.2 435.5,1147.2 436.5,1147.2 437.5,1147.2 438.5,1147.2 439.5,1147.2 440.5,1147.2 441.5,1147.2 442.5,1147.2 443.5,1147.2 444.5,1147.2 445.5,1147.2 446.5,1147.2 447.5,1147.2 448.5,1147.2 449.5,1147.2 450.5,1147.2 451.5,1147.2 452.5,1147.2 453.5,1147.2 454.5,1147.2 455.5,1147.2 456.5,1147.2 457.5,1147.2 458.5,1147.2 459.5,1147.2 460.5,1147.2 461.5,1147.2 462.5,1147.2 463.5,1147.2 464.5,1147.2 465.5,1147.2 466.5,1147.2 467.5,1147.2 468.5,1147.2 469.5,1147.2 470.5,1147.2 471.5,1147.2"/>
</g>
<g fill="none" stroke-width="3" stroke-linejoin="round">
<polyline stroke="#000" points="643.5,1146.65 644.5,1146.54 645.5,1146.6 646.5,1146.53 647.5,1146.53 648.5,1146.79 649.5,1146.61 650.5,1146.36 651.5,1146.91 652.5,1146.87 653.5,1147.12 654.5,1147.18 655.5,1146.86 656.5,1146.4 657.5,1146.02 658.5,1146.39 659.5,1146.2 660.5,1146.27 661.5,1146.87 662.5,1147.77 663.5,1146.9 664.5,1146.68 665.5,1146.98 666.5,1146.5 667.5,1146.15 668.5,1146.93 669.5,1146.83 670.5,1146.52 671.5,1147.31 672.5,1147.17 673.5,1146.49 674.5,1146.06 675.5,1145.93 676.5,1145.9 677.5,1145.58 678.5,1146.33 679.5,1147.08 680.5,1146.75 681.5,1146.34 682.5,1146.61 683.5,1147.26 684.5,1146.77 685.5,1146.89 686.5,1146.6 687.5,1146.08 688.5,1146.57 689.5,1146.89 690.5,1146.8 691.5,1146.63 692.5,1145.79 693.5,1145.94 694.5,1146.23 695.5,1146.83 696.5,1146.9 697.5,1146.83 698.5,1147.29 699.5,1146.61 700.5,1146.96 701.5,1146.67 702.5,1146.55 703.5,1146.82 704.5,1146.47 705.5,1146.07 706.5,1145.74 707.5,1146.02 708.5,1145.8 709.5,1146.23 710.5,1146.52 711.5,1146.35 712.5,1146.68 713.5,1146.53 714.5,1146.21 715.5,1146.05 716.5,1146.53 717.5,1146.98 718.5,1146.25 719.5,1146.42 720.5,1146.79 721.5,1146.88 722.5,1146.43 723.5,1146.33 724.5,1146.31 725.5,1146.39 726.5,1146.05 727.5,1146.48 728.5,1146.45 729.5,1146.35 730.5,1146.25 731.5,1146.78 732.5,1146.82 733.5,1146.79 734.5,1146.96 735.5,1147.07 736.5,1147.05 737.5,1146.28 738.5,1146.05 739.5,1146.72 740.5,1146.55 741.5,1147.05 742.5,1147.08 743.5,1146.8 744.5,1146.54 745.5,1146.63 746.5,1147.44 747.5,1147.32 748.5,1146.75 749.5,1146.44 750.5,1145.84 751.5,1146.54 752.5,1146.74 753.5,1146.52 754.5,1147.71 755.5,1147.32 756.5,1145.84 757.5,1146.52 758.5,1146.67 759.5,1146.77 760.5,1146.98 761.5,1146.91 762.5,1147.01 763.5,1146.29 764.5,1146.11 765.5,1146.36 766.5,1147.1 767.5,1147.51 768.5,1147.14 769.5,1147.04 770.5,1146.77 771.5,1147.29 772.5,1147.13 773.5,1146.61 774.5,1146.41 775.5,1146.66 776.5,1147.16 777.5,1146.78 778.5,1145.8 779.5,1146.1 780.5,1146.59 781.5,1145.98 782.5,1146.43 783.5,1146.72 784.5,1146.75 785.5,1146.1 786.5,1146.4 787.5,1146.73 788.5,1147.12 789.5,1147.18 790.5,1146.68 791.5,1146.4 792.5,1146.11 793.5,1146.79 794.5,1146.67 795.5,1146.04 796.5,1146.03 797.5,1146.26 798.5,1145.59 799.5,1145.51 800.5,1145.33 801.5,1145.2 802.5,1144.94 803.5,1145.1 804.5,1144.73 805.5,1143.96 806.5,1143.72 807.5,1143.26 808.5,1141.89 809.5,1140.13 810.5,1137.72 811.5,1135.07 812.5,1130.52 813.5,1125.39 814.5,1120.15 815.5,1109.67 816.5,1097.89 817.5,1087.79 818.5,1077.6 819.5,1067.27 820.5,1055.67 821.5,1041.31 822.5,1025.29 823.5,1005.05 824.5,987.86 825.5,973.94 826.5,964.56 827.5,963.76 828.5,970.71 829.5,981.98 830.5,994.38 831.5,1011.96 832.5,1027.22 833.5,1036.68 834.5,1044.25 835.5,1050.23 836.5,1058.31 837.5,1067.96 838.5,1078.02 839.5,1087.62 840.5,1095.07 841.5,1102.2 842.5,1108.33 843.5,1114.45 844.5,1119.76 845.5,1124.38 846.5,1128.46 847.5,1132.93 848.5,1135.92 849.5,1139.4 850.5,1142.33 851.5,1143.77 852.5,1144.35 853.5,1144.42 854.5,1145.06 855.5,1145.59 856.5,1145.56 857.5,1145.61 858.5,1145.59 859.5,1145.48 860.5,1145.48 861.5,1145.74 862.5,1145.96 863.5,1147.23 864.5,1146.73 865.5,1146.37 866.5,1147.02 867.5,1146.81 868.5,1146.72 869.5,1147.24 870.5,1146.93 871.5,1146.48 872.5,1146.48 873.5,1145.77 874.5,1145.52 875.5,1146.49 876.5,1147.06 877.5,1146.81 878.5,1146.99 879.5,1147.27 880.5,1146.98 881.5,1146.87 882.5,1146.69 883.5,1146.17 884.5,1146.04 885.5,1146.36 886.5,1146.64 887.5,1146.48 888.5,1146.52 889.5,1146.63 890.5,1147.31 891.5,1147.8 892.5,1146.69 893.5,1146.79 894.5,1146.87 895.5,1146.67 896.5,1146.66 897.5,1146.55 898.5,1146.03 899.5,1146.35 900.5,1146.6 901.5,1146.93 902.5,1146.69 903.5,1146.45 904.5,1146.54 905.5,1146.6 906.5,1146.88 907.5,1146.68 908.5,1147 909.5,1146.98 910.5,1146.93 911.5,1146.5 912.5,1146.13 913.5,1146.47 914.5,1146.89 915.5,1146.53 916.5,1146.1 917.5,1146.15 918.5,1146.46 919.5,1147.04 920.5,1147.02 921.5,1146.98 922.5,1146.84 923.5,1146.56 924.5,1146.6 925.5,1146.67 926.5,1146.51 927.5,1146.85 928.5,1146.8 929.5,1146.76 930.5,1147.21 931.5,1147.25 932.5,1147.36 933.5,1147.18 934.5,1146.79 935.5,1146.63 936.5,1146.45 937.5,1146.57 938.5,1146.79 939.5,1145.86 940.5,1146.01 941.5,1146.99 942.5,1147.06 943.5,1146.84 944.5,1146.51 945.5,1146.34 946.5,1146.83 947.5,1147.26 948.5,1145.7 949.5,1145.85 950.5,1146.27 951.5,1146.78 952.5,1146.54 953.5,1146.29 954.5,1146.54 955.5,1146.21 956.5,1146.26 957.5,1145.98 958.5,1146.23 959.5,1146.21 960.5,1146.88 961.5,1146.18 962.5,1146.31 963.5,1146.57 964.5,1146.26 965.5,1146.49 966.5,1146.21 967.5,1146.02 968.5,1145.84 969.5,1145.48 970.5,1145.53 971.5,1145.4 972.5,1146.02 973.5,1146.42 974.5,1146.44 975.5,1146.71 976.5,1147.06 977.5,1146.83 978.5,1147.07 979.5,1146.88 980.5,1146.81 981.5,1146.97 982.5,1147.06 983.5,1146.68 984.5,1146.44 985.5,1146 986.5,1146.09 987.5,1146.22 988.5,1146.71 989.5,1146.92 990.5,1147.22 991.5,1147 992.5,1146.45 993.5,1146.61 994.5,1146.74 995.5,1146.65 996.5,1146.08 997.5,1146.31 998.5,1146.17 999.5,1146.38 1000.5,1146.35 1001.5,1147.02 1002.5,1147.1 1003.5,1146.37 1004.5,1146.56"/>
<polyline stroke="#f01010" points="643.5,1146.2 644.5,1146.55 645.5,1147.11 646.5,1147 647.5,1146.59 648.5,1146.29 649.5,1146.29 650.5,1146.49 651.5,1146.86 652.5,1146.58 653.5,1146.33 654.5,1146.89 655.5,1146.82 656.5,1146.14 657.5,1145.84 658.5,1146.26 659.5,1146.66 660.5,1146.98 661.5,1146.85 662.5,1146.9 663.5,1146.56 664.5,1146.26 665.5,1146.2 666.5,1146.17 667.5,1146.99 668.5,1147.05 669.5,1146.1 670.5,1146.16 671.5,1146.84 672.5,1146.78 673.5,1147 674.5,1146.7 675.5,1146.37 676.5,1146.31 677.5,1147.01 678.5,1147.13 679.5,1146.57 680.5,1146.5 681.5,1146.23 682.5,1146.95 683.5,1147.29 684.5,1147.59 685.5,1146.33 686.5,1145.91 687.5,1146.32 688.5,1146.9 689.5,1147.57 690.5,1147.42 691.5,1146.74 692.5,1145.83 693.5,1146.11 694.5,1146.68 695.5,1146.44 696.5,1146.28 697.5,1146.45 698.5,1146.95 699.5,1146.76 700.5,1146.19 701.5,1146.26 702.5,1146.37 703.5,1145.67 704.5,1146.26 705.5,1146.62 706.5,1146.21 707.5,1146.2 708.5,1146.35 709.5,1145.8 710.5,1145.97 711.5,1146.38 712.5,1146.25 713.5,1146.29 714.5,1146.54 715.5,1146.41 716.5,1146.74 717.5,1146.67 718.5,1146.52 719.5,1147.04 720.5,1146.98 721.5,1146.93 722.5,1146.5 723.5,1146.53 724.5,1145.79 725.5,1145.88 726.5,1146.66 727.5,1146.66 728.5,1146.72 729.5,1146.56 730.5,1146.17 731.5,1145.7 732.5,1145.38 733.5,1145.78 734.5,1146.92 735.5,1146.94 736.5,1146.76 737.5,1146.72 738.5,1146.5 739.5,1146.38 740.5,1146.76 741.5,1146.6 742.5,1145.68 743.5,1145.81 744.5,1145.75 745.5,1146.41 746.5,1145.94 747.5,1145.64 748.5,1145.98 749.5,1146.67 750.5,1146.56 751.5,1146.96 752.5,1147.12 753.5,1146.67 754.5,1146.42 755.5,1146.63 756.5,1146.59 757.5,1146.44 758.5,1146.73 759.5,1146.42 760.5,1146.17 761.5,1146.19 762.5,1146.42 763.5,1146.95 764.5,1146.87 765.5,1146.71 766.5,1146.57 767.5,1147.17 768.5,1146.93 769.5,1147.12 770.5,1146.59 771.5,1146.71 772.5,1146.53 773.5,1146.04 774.5,1145.95 775.5,1146.76 776.5,1146.89 777.5,1147.35 778.5,1146.97 779.5,1146.8 780.5,1146.43 781.5,1146.55 782.5,1146.7 783.5,1147.05 784.5,1146.98 785.5,1147.06 786.5,1146.9 787.5,1147.17 788.5,1146.55 789.5,1145.84 790.5,1145.29 791.5,1145.56 792.5,1145.82 793.5,1145.95 794.5,1145.9 795.5,1146.38 796.5,1146.66 797.5,1147.32 798.5,1146.87 799.5,1146.41 800.5,1147.08 801.5,1146.67 802.5,1146.62 803.5,1146.69 804.5,1146.5 805.5,1146.65 806.5,1146.98 807.5,1146.86 808.5,1146.93 809.5,1145.87 810.5,1145.67 811.5,1145.21 812.5,1144.67 813.5,1142.64 814.5,1140.78 815.5,1138.32 816.5,1134.43 817.5,1129.09 818.5,1122.35 819.5,1113.38 820.5,1102.6 821.5,1089.99 822.5,1076.11 823.5,1062.32 824.5,1049.15 825.5,1037.05 826.5,1027.55 827.5,1021.23 828.5,1018.81 829.5,1019.69 830.5,1023.36 831.5,1029.49 832.5,1038.15 833.5,1048.34 834.5,1059.6 835.5,1071.76 836.5,1083.99 837.5,1095.35 838.5,1105.39 839.5,1114.13 840.5,1122.27 841.5,1128.78 842.5,1133.21 843.5,1136.44 844.5,1139.23 845.5,1141.88 846.5,1144.25 847.5,1144.83 848.5,1144.97 849.5,1145.11 850.5,1145.4 851.5,1146.42 852.5,1146.58 853.5,1147.08 854.5,1146.85 855.5,1146.65 856.5,1146.29 857.5,1146.63 858.5,1147.25 859.5,1146.8 860.5,1146.3 861.5,1146.08 862.5,1146.8 863.5,1147.07 864.5,1146.8 865.5,1146.3 866.5,1146.57 867.5,1146.54 868.5,1146.51 869.5,1146.73 870.5,1146.46 871.5,1146.88 872.5,1146.16 873.5,1146.74 874.5,1147.11 875.5,1147.12 876.5,1147.23 877.5,1147.16 878.5,1147.14 879.5,1147.16 880.5,1146.76 881.5,1146.56 882.5,1146.76 883.5,1146.69 884.5,1146.87 885.5,1146.64 886.5,1146.82 887.5,1147.04 888.5,1146.7 889.5,1146.73 890.5,1146.88 891.5,1146.63 892.5,1146.54 893.5,1147.06 894.5,1146.86 895.5,1146.42 896.5,1146.44 897.5,1146.02 898.5,1145.73 899.5,1146.76 900.5,1146.65 901.5,1146.53 902.5,1146.03 903.5,1146.37 904.5,1146.94 905.5,1146.34 906.5,1146.51 907.5,1146.71 908.5,1146.6 909.5,1146.61 910.5,1146.95 911.5,1146.69 912.5,1146.24 913.5,1146.9 914.5,1146.86 915.5,1146.48 916.5,1146.9 917.5,1146.75 918.5,1146.61 919.5,1146.95 920.5,1146.93 921.5,1147.01 922.5,1146.75 923.5,1146.52 924.5,1146.54 925.5,1146.46 926.5,1146.34 927.5,1146.38 928.5,1146.91 929.5,1146.5 930.5,1146.01 931.5,1146.54 932.5,1146.73 933.5,1146.71 934.5,1146.81 935.5,1146.47 936.5,1146.56 937.5,1146.58 938.5,1146.2 939.5,1146.22 940.5,1147.06 941.5,1146.99 942.5,1146.93 943.5,1147.1 944.5,1146.26 945.5,1145.62 946.5,1145.9 947.5,1146.25 948.5,1147.26 949.5,1147.15 950.5,1147.07 951.5,1146.47 952.5,1146.58 953.5,1146.63 954.5,1146.35 955.5,1146.06 956.5,1145.73 957.5,1145.78 958.5,1146.27 959.5,1146.98 960.5,1146.3 961.5,1146.6 962.5,1147.16 963.5,1146.74 964.5,1146.69 965.5,1146.55 966.5,1146.4 967.5,1146.93 968.5,1146.37 969.5,1146.2 970.5,1146.74 971.5,1146.27 972.5,1146.78 973.5,1146.85 974.5,1146.33 975.5,1146.71 976.5,1147.39 977.5,1146.98 978.5,1146.47 979.5,1146.79 980.5,1146.85 981.5,1146.65 982.5,1146.68 983.5,1146.97 984.5,1146.99 985.5,1146.4 986.5,1146.37 987.5,1147.39 988.5,1146.62 989.5,1146.27 990.5,1146.66 991.5,1146.32 992.5,1146.9 993.5,1146.22 994.5,1145.69 995.5,1146.13 996.5,1147.44 997.5,1147 998.5,1146.93 999.5,1146.4 1000.5,1145.97 1001.5,1146.09 1002.5,1146.12 1003.5,1147.15 1004.5,1147.18"/>
<polyline stroke="#1010e8" points="643.5,1146.15 644.5,1146.89 645.5,1146.95 646.5,1146.52 647.5,1146.94 648.5,1146.63 649.5,1146.86 650.5,1146.49 651.5,1145.84 652.5,1146.46 653.5,1146.71 654.5,1146.84 655.5,1146.3 656.5,1145.87 657.5,1146.33 658.5,1146.99 659.5,1146.43 660.5,1146.07 661.5,1146.81 662.5,1146.87 663.5,1147.04 664.5,1147.05 665.5,1147.21 666.5,1147.18 667.5,1146.58 668.5,1146.82 669.5,1147.57 670.5,1147.34 671.5,1147.13 672.5,1147.09 673.5,1146.69 674.5,1146.62 675.5,1146.64 676.5,1147.16 677.5,1147.09 678.5,1146.9 679.5,1146.84 680.5,1146.87 681.5,1146.95 682.5,1146.55 683.5,1146.07 684.5,1146.89 685.5,1147.29 686.5,1146.79 687.5,1146.83 688.5,1146.27 689.5,1145.91 690.5,1145.81 691.5,1146.54 692.5,1147.05 693.5,1146.07 694.5,1145.91 695.5,1145.98 696.5,1146.45 697.5,1146.72 698.5,1146.84 699.5,1147.19 700.5,1146.5 701.5,1146.8 702.5,1146.87 703.5,1146.63 704.5,1146.8 705.5,1146.46 706.5,1146.47 707.5,1145.61 708.5,1145.76 709.5,1146.15 710.5,1146.39 711.5,1146.59 712.5,1147 713.5,1147.46 714.5,1147.12 715.5,1147.02 716.5,1146.87 717.5,1146.84 718.5,1147.45 719.5,1147.37 720.5,1147.05 721.5,1146.74 722.5,1145.99 723.5,1145.48 724.5,1146.27 725.5,1146.36 726.5,1146.49 727.5,1146.29 728.5,1145.87 729.5,1146.26 730.5,1146.35 731.5,1146.58 732.5,1146.7 733.5,1146.27 734.5,1146.36 735.5,1146.17 736.5,1146.8 737.5,1146.35 738.5,1145.96 739.5,1146.6 740.5,1146.36 741.5,1145.93 742.5,1146.35 743.5,1146.89 744.5,1146.78 745.5,1146.58 746.5,1146.83 747.5,1146.8 748.5,1146.73 749.5,1146.86 750.5,1146.16 751.5,1146.63 752.5,1146.65 753.5,1146.39 754.5,1146.07 755.5,1146.34 756.5,1145.63 757.5,1145.55 758.5,1146.25 759.5,1147.18 760.5,1147.28 761.5,1146.8 762.5,1146.43 763.5,1146.17 764.5,1145.99 765.5,1146.26 766.5,1146.47 767.5,1146.66 768.5,1147.19 769.5,1146.55 770.5,1147.26 771.5,1147.6 772.5,1147.14 773.5,1146.98 774.5,1147.14 775.5,1146.81 776.5,1146.51 777.5,1146.29 778.5,1146.43 779.5,1146.73 780.5,1146.46 781.5,1146.12 782.5,1146.56 783.5,1146.92 784.5,1147.39 785.5,1146.49 786.5,1145.68 787.5,1146.09 788.5,1146.44 789.5,1145.99 790.5,1145.8 791.5,1146.05 792.5,1147.01 793.5,1147.09 794.5,1146.38 795.5,1146.25 796.5,1146.52 797.5,1147.01 798.5,1146.23 799.5,1145.61 800.5,1145.6 801.5,1145.4 802.5,1146.09 803.5,1146.26 804.5,1145.72 805.5,1146.18 806.5,1147.39 807.5,1147.13 808.5,1146.18 809.5,1145.55 810.5,1144.04 811.5,1142.75 812.5,1141.41 813.5,1139.78 814.5,1136.85 815.5,1132.99 816.5,1129.1 817.5,1124.55 818.5,1120.23 819.5,1116.23 820.5,1113.17 821.5,1111.22 822.5,1111.17 823.5,1111.46 824.5,1111.81 825.5,1110.92 826.5,1109.47 827.5,1105.93 828.5,1101.42 829.5,1097.48 830.5,1094.82 831.5,1094 832.5,1093.95 833.5,1094.46 834.5,1094.33 835.5,1095 836.5,1094.83 837.5,1094.37 838.5,1094.3 839.5,1094.67 840.5,1094.99 841.5,1095.66 842.5,1098.3 843.5,1102 844.5,1106.52 845.5,1113.76 846.5,1120.62 847.5,1126.65 848.5,1131.58 849.5,1135.96 850.5,1139.68 851.5,1142.44 852.5,1144.02 853.5,1145.38 854.5,1145.47 855.5,1145.55 856.5,1146.49 857.5,1146.55 858.5,1146.75 859.5,1146.94 860.5,1147.15 861.5,1146.73 862.5,1146.45 863.5,1145.83 864.5,1145.65 865.5,1146.61 866.5,1146.39 867.5,1146.86 868.5,1147.05 869.5,1147.07 870.5,1146.41 871.5,1146.08 872.5,1146.48 873.5,1146.63 874.5,1146.93 875.5,1146.97 876.5,1147.16 877.5,1147.02 878.5,1147.14 879.5,1145.81 880.5,1145.92 881.5,1146.74 882.5,1146.91 883.5,1146.82 884.5,1146.59 885.5,1146.28 886.5,1145.9 887.5,1146.79 888.5,1147.38 889.5,1146.68 890.5,1146.51 891.5,1146.79 892.5,1146.41 893.5,1146.68 894.5,1146.95 895.5,1146.89 896.5,1147.17 897.5,1146.72 898.5,1145.85 899.5,1145.87 900.5,1146.22 901.5,1146.46 902.5,1146.62 903.5,1147.01 904.5,1146.76 905.5,1146.94 906.5,1146.75 907.5,1146.15 908.5,1146.7 909.5,1146.66 910.5,1146.45 911.5,1146.23 912.5,1146.52 913.5,1146.39 914.5,1146.42 915.5,1146.7 916.5,1146.97 917.5,1146.95 918.5,1146.41 919.5,1146.68 920.5,1146.06 921.5,1145.88 922.5,1146.74 923.5,1147.16 924.5,1147.16 925.5,1146.76 926.5,1146.24 927.5,1146.87 928.5,1147.3 929.5,1147.36 930.5,1146.7 931.5,1146.24 932.5,1145.93 933.5,1146.32 934.5,1146.59 935.5,1146.28 936.5,1145.29 937.5,1145.54 938.5,1146.1 939.5,1146.64 940.5,1146.72 941.5,1146.66 942.5,1146.59 943.5,1146.5 944.5,1146.59 945.5,1146.06 946.5,1146.68 947.5,1146.37 948.5,1146.11 949.5,1145.98 950.5,1145.92 951.5,1146.29 952.5,1146.31 953.5,1145.85 954.5,1145.92 955.5,1146.34 956.5,1146.4 957.5,1146.91 958.5,1146.82 959.5,1147.21 960.5,1146.43 961.5,1146.58 962.5,1146.25 963.5,1146.37 964.5,1146.66 965.5,1146.13 966.5,1145.94 967.5,1146.51 968.5,1145.9 969.5,1146.31 970.5,1146.91 971.5,1146.74 972.5,1146.38 973.5,1146.35 974.5,1146.85 975.5,1146.76 976.5,1146.4 977.5,1146.19 978.5,1145.69 979.5,1145.92 980.5,1146.24 981.5,1146.92 982.5,1147.15 983.5,1147.09 984.5,1146.65 985.5,1146.14 986.5,1145.73 987.5,1146.09 988.5,1146.78 989.5,1146.44 990.5,1145.73 991.5,1146.21 992.5,1146.51 993.5,1147.2 994.5,1147.32 995.5,1146.95 996.5,1146.66 997.5,1146.41 998.5,1146.75 999.5,1146.96 1000.5,1145.78 1001.5,1146.33 1002.5,1146.97 1003.5,1146.01 1004.5,1146.07"/>
</g>
<g fill="none" stroke-width="3" stroke-linejoin="round">
<polyline stroke="#000" points="1176.4,1147.1 1177.4,1147.1 1178.4,1147.1 1179.4,1147.1 1180.4,1147.1 1181.4,1147.1 1182.4,1147.1 1183.4,1147.1 1184.4,1147.1 1185.4,1147.1 1186.4,1147.1 1187.4,1147.1 1188.4,1147.1 1189.4,1147.1 1190.4,1147.1 1191.4,1147.1 1192.4,1147.1 1193.4,1147.1 1194.4,1147.1 1195.41,1147.1 1196.41,1147.1 1197.41,1147.1 1198.41,1147.1 1199.41,1147.1 1200.41,1147.1 1201.41,1147.1 1202.41,1147.1 1203.41,1147.1 1204.41,1147.1 1205.41,1147.1 1206.41,1147.1 1207.41,1147.1 1208.41,1147.1 1209.41,1147.1 1210.41,1147.1 1211.41,1147.1 1212.41,1147.1 1213.41,1147.1 1214.41,1147.1 1215.41,1147.1 1216.41,1147.1 1217.41,1147.1 1218.41,1147.1 1219.41,1147.1 1220.41,1147.1 1221.41,1147.1 1222.41,1147.1 1223.41,1147.1 1224.41,1147.1 1225.41,1147.1 1226.41,1147.1 1227.41,1147.1 1228.41,1147.1 1229.41,1147.1 1230.41,1147.1 1231.42,1147.1 1232.42,1147.1 1233.42,1147.1 1234.42,1147.1 1235.42,1147.1 1236.42,1147.1 1237.42,1147.1 1238.42,1147.1 1239.42,1147.1 1240.42,1147.1 1241.42,1147.1 1242.42,1147.1 1243.42,1147.1 1244.42,1147.1 1245.42,1147.1 1246.42,1147.1 1247.42,1147.1 1248.42,1147.1 1249.42,1147.1 1250.42,1147.1 1251.42,1147.1 1252.42,1147.1 1253.42,1147.1 1254.42,1147.1 1255.42,1147.1 1256.42,1147.1 1257.42,1147.1 1258.42,1147.1 1259.42,1147.1 1260.42,1147.1 1261.42,1147.1 1262.42,1147.1 1263.42,1147.1 1264.42,1147.1 1265.42,1147.1 1266.42,1147.1 1267.43,1147.1 1268.43,1147.1 1269.43,1147.1 1270.43,1147.1 1271.43,1147.1 1272.43,1147.1 1273.43,1147.1 1274.43,1147.1 1275.43,1147.1 1276.43,1147.1 1277.43,1147.1 1278.43,1147.1 1279.43,1147.1 1280.43,1147.1 1281.43,1147.1 1282.43,1147.1 1283.43,1147.1 1284.43,1147.1 1285.43,1147.1 1286.43,1147.1 1287.43,1147.1 1288.43,1147.1 1289.43,1147.1 1290.43,1147.1 1291.43,1147.1 1292.43,1147.1 1293.43,1147.1 1294.43,1147.1 1295.43,1147.1 1296.43,1147.1 1297.43,1147.1 1298.43,1147.1 1299.43,1147.1 1300.43,1147.1 1301.43,1147.1 1302.43,1147.1 1303.44,1147.1 1304.44,1147.1 1305.44,1147.1 1306.44,1147.1 1307.44,1147.1 1308.44,1147.1 1309.44,1147.1 1310.44,1147.1 1311.44,1147.1 1312.44,1147.1 1313.44,1147.1 1314.44,1147.1 1315.44,1147.1 1316.44,1147.1 1317.44,1147.1 1318.44,1147.1 1319.44,1147.1 1320.44,1147.1 1321.44,1147.09 1322.44,1147.05 1323.44,1146.98 1324.44,1146.88 1325.44,1146.76 1326.44,1146.6 1327.44,1146.42 1328.44,1146.2 1329.44,1145.96 1330.44,1145.69 1331.44,1145.39 1332.44,1145.06 1333.44,1144.7 1334.44,1144.31 1335.44,1143.89 1336.44,1143.44 1337.44,1142.95 1338.44,1142.44 1339.45,1141.9 1340.45,1141.14 1341.45,1139.88 1342.45,1138.14 1343.45,1135.94 1344.45,1133.3 1345.45,1130.24 1346.45,1126.23 1347.45,1119.66 1348.45,1111.07 1349.45,1101.19 1350.45,1089.65 1351.45,1074.4 1352.45,1058.19 1353.45,1043.69 1354.45,1029.82 1355.45,1016.51 1356.45,1004.23 1357.45,991.87 1358.45,978.76 1359.45,968.11 1360.45,963.23 1361.45,965.84 1362.45,973.65 1363.45,984.39 1364.45,995.81 1365.45,1005.88 1366.45,1015.86 1367.45,1026.3 1368.45,1037.15 1369.45,1048.32 1370.45,1060.32 1371.45,1073.35 1372.45,1086.07 1373.45,1097.1 1374.45,1106.74 1375.45,1115.87 1376.46,1123.57 1377.46,1128.9 1378.46,1132.42 1379.46,1135.49 1380.46,1138.06 1381.46,1140.05 1382.46,1141.4 1383.46,1142.12 1384.46,1142.7 1385.46,1143.24 1386.46,1143.74 1387.46,1144.21 1388.46,1144.64 1389.46,1145.04 1390.46,1145.4 1391.46,1145.72 1392.46,1146.01 1393.46,1146.27 1394.46,1146.49 1395.46,1146.67 1396.46,1146.82 1397.46,1146.94 1398.46,1147.03 1399.46,1147.08 1400.46,1147.1 1401.46,1147.1 1402.46,1147.1 1403.46,1147.1 1404.46,1147.1 1405.46,1147.1 1406.46,1147.1 1407.46,1147.1 1408.46,1147.1 1409.46,1147.1 1410.46,1147.1 1411.46,1147.1 1412.47,1147.1 1413.47,1147.1 1414.47,1147.1 1415.47,1147.1 1416.47,1147.1 1417.47,1147.1 1418.47,1147.1 1419.47,1147.1 1420.47,1147.1 1421.47,1147.1 1422.47,1147.1 1423.47,1147.1 1424.47,1147.1 1425.47,1147.1 1426.47,1147.1 1427.47,1147.1 1428.47,1147.1 1429.47,1147.1 1430.47,1147.1 1431.47,1147.1 1432.47,1147.1 1433.47,1147.1 1434.47,1147.1 1435.47,1147.1 1436.47,1147.1 1437.47,1147.1 1438.47,1147.1 1439.47,1147.1 1440.47,1147.1 1441.47,1147.1 1442.47,1147.1 1443.47,1147.1 1444.47,1147.1 1445.47,1147.1 1446.47,1147.1 1447.47,1147.1 1448.48,1147.1 1449.48,1147.1 1450.48,1147.1 1451.48,1147.1 1452.48,1147.1 1453.48,1147.1 1454.48,1147.1 1455.48,1147.1 1456.48,1147.1 1457.48,1147.1 1458.48,1147.1 1459.48,1147.1 1460.48,1147.1 1461.48,1147.1 1462.48,1147.1 1463.48,1147.1 1464.48,1147.1 1465.48,1147.1 1466.48,1147.1 1467.48,1147.1 1468.48,1147.1 1469.48,1147.1 1470.48,1147.1 1471.48,1147.1 1472.48,1147.1 1473.48,1147.1 1474.48,1147.1 1475.48,1147.1 1476.48,1147.1 1477.48,1147.1 1478.48,1147.1 1479.48,1147.1 1480.48,1147.1 1481.48,1147.1 1482.48,1147.1 1483.48,1147.1 1484.49,1147.1 1485.49,1147.1 1486.49,1147.1 1487.49,1147.1 1488.49,1147.1 1489.49,1147.1 1490.49,1147.1 1491.49,1147.1 1492.49,1147.1 1493.49,1147.1 1494.49,1147.1 1495.49,1147.1 1496.49,1147.1 1497.49,1147.1 1498.49,1147.1 1499.49,1147.1 1500.49,1147.1 1501.49,1147.1 1502.49,1147.1 1503.49,1147.1 1504.49,1147.1 1505.49,1147.1 1506.49,1147.1 1507.49,1147.1 1508.49,1147.1 1509.49,1147.1 1510.49,1147.1 1511.49,1147.1 1512.49,1147.1 1513.49,1147.1 1514.49,1147.1 1515.49,1147.1 1516.49,1147.1 1517.49,1147.1 1518.49,1147.1 1519.49,1147.1 1520.5,1147.1 1521.5,1147.1 1522.5,1147.1 1523.5,1147.1 1524.5,1147.1 1525.5,1147.1 1526.5,1147.1 1527.5,1147.1 1528.5,1147.1 1529.5,1147.1 1530.5,1147.1 1531.5,1147.1 1532.5,1147.1 1533.5,1147.1 1534.5,1147.1 1535.5,1147.1 1536.5,1147.1 1537.5,1147.1 1538.5,1147.1"/>
<polyline stroke="#f01010" points="1176.4,1147.1 1177.4,1147.1 1178.4,1147.1 1179.4,1147.1 1180.4,1147.1 1181.4,1147.1 1182.4,1147.1 1183.4,1147.1 1184.4,1147.1 1185.4,1147.1 1186.4,1147.1 1187.4,1147.1 1188.4,1147.1 1189.4,1147.1 1190.4,1147.1 1191.4,1147.1 1192.4,1147.1 1193.4,1147.1 1194.4,1147.1 1195.41,1147.1 1196.41,1147.1 1197.41,1147.1 1198.41,1147.1 1199.41,1147.1 1200.41,1147.1 1201.41,1147.1 1202.41,1147.1 1203.41,1147.1 1204.41,1147.1 1205.41,1147.1 1206.41,1147.1 1207.41,1147.1 1208.41,1147.1 1209.41,1147.1 1210.41,1147.1 1211.41,1147.1 1212.41,1147.1 1213.41,1147.1 1214.41,1147.1 1215.41,1147.1 1216.41,1147.1 1217.41,1147.1 1218.41,1147.1 1219.41,1147.1 1220.41,1147.1 1221.41,1147.1 1222.41,1147.1 1223.41,1147.1 1224.41,1147.1 1225.41,1147.1 1226.41,1147.1 1227.41,1147.1 1228.41,1147.1 1229.41,1147.1 1230.41,1147.1 1231.42,1147.1 1232.42,1147.1 1233.42,1147.1 1234.42,1147.1 1235.42,1147.1 1236.42,1147.1 1237.42,1147.1 1238.42,1147.1 1239.42,1147.1 1240.42,1147.1 1241.42,1147.1 1242.42,1147.1 1243.42,1147.1 1244.42,1147.1 1245.42,1147.1 1246.42,1147.1 1247.42,1147.1 1248.42,1147.1 1249.42,1147.1 1250.42,1147.1 1251.42,1147.1 1252.42,1147.1 1253.42,1147.1 1254.42,1147.1 1255.42,1147.1 1256.42,1147.1 1257.42,1147.1 1258.42,1147.1 1259.42,1147.1 1260.42,1147.1 1261.42,1147.1 1262.42,1147.1 1263.42,1147.1 1264.42,1147.1 1265.42,1147.1 1266.42,1147.1 1267.43,1147.1 1268.43,1147.1 1269.43,1147.1 1270.43,1147.1 1271.43,1147.1 1272.43,1147.1 1273.43,1147.1 1274.43,1147.1 1275.43,1147.1 1276.43,1147.1 1277.43,1147.1 1278.43,1147.1 1279.43,1147.1 1280.43,1147.1 1281.43,1147.1 1282.43,1147.1 1283.43,1147.1 1284.43,1147.1 1285.43,1147.1 1286.43,1147.1 1287.43,1147.1 1288.43,1147.1 1289.43,1147.1 1290.43,1147.1 1291.43,1147.1 1292.43,1147.1 1293.43,1147.1 1294.43,1147.1 1295.43,1147.1 1296.43,1147.1 1297.43,1147.1 1298.43,1147.1 1299.43,1147.1 1300.43,1147.1 1301.43,1147.1 1302.43,1147.1 1303.44,1147.1 1304.44,1147.1 1305.44,1147.1 1306.44,1147.1 1307.44,1147.1 1308.44,1147.1 1309.44,1147.1 1310.44,1147.1 1311.44,1147.1 1312.44,1147.1 1313.44,1147.1 1314.44,1147.1 1315.44,1147.1 1316.44,1147.1 1317.44,1147.1 1318.44,1147.1 1319.44,1147.1 1320.44,1147.1 1321.44,1147.1 1322.44,1147.1 1323.44,1147.1 1324.44,1147.1 1325.44,1147.1 1326.44,1147.1 1327.44,1147.1 1328.44,1147.1 1329.44,1147.1 1330.44,1147.1 1331.44,1147.1 1332.44,1147.1 1333.44,1147.1 1334.44,1147.1 1335.44,1147.1 1336.44,1147.09 1337.44,1147.08 1338.44,1147.07 1339.45,1147.04 1340.45,1146.98 1341.45,1146.88 1342.45,1146.7 1343.45,1146.4 1344.45,1145.93 1345.45,1145.17 1346.45,1144.02 1347.45,1142.31 1348.45,1139.87 1349.45,1136.47 1350.45,1131.91 1351.45,1125.99 1352.45,1118.56 1353.45,1109.58 1354.45,1099.12 1355.45,1087.42 1356.45,1074.91 1357.45,1062.17 1358.45,1049.92 1359.45,1038.95 1360.45,1030.04 1361.45,1023.87 1362.45,1020.93 1363.45,1021.7 1364.45,1026.93 1365.45,1036.13 1366.45,1048.34 1367.45,1062.41 1368.45,1077.1 1369.45,1091.35 1370.45,1104.32 1371.45,1115.46 1372.45,1124.55 1373.45,1131.61 1374.45,1136.85 1375.45,1140.56 1376.46,1143.08 1377.46,1144.72 1378.46,1145.74 1379.46,1146.35 1380.46,1146.7 1381.46,1146.9 1382.46,1147 1383.46,1147.05 1384.46,1147.08 1385.46,1147.09 1386.46,1147.1 1387.46,1147.1 1388.46,1147.1 1389.46,1147.1 1390.46,1147.1 1391.46,1147.1 1392.46,1147.1 1393.46,1147.1 1394.46,1147.1 1395.46,1147.1 1396.46,1147.1 1397.46,1147.1 1398.46,1147.1 1399.46,1147.1 1400.46,1147.1 1401.46,1147.1 1402.46,1147.1 1403.46,1147.1 1404.46,1147.1 1405.46,1147.1 1406.46,1147.1 1407.46,1147.1 1408.46,1147.1 1409.46,1147.1 1410.46,1147.1 1411.46,1147.1 1412.47,1147.1 1413.47,1147.1 1414.47,1147.1 1415.47,1147.1 1416.47,1147.1 1417.47,1147.1 1418.47,1147.1 1419.47,1147.1 1420.47,1147.1 1421.47,1147.1 1422.47,1147.1 1423.47,1147.1 1424.47,1147.1 1425.47,1147.1 1426.47,1147.1 1427.47,1147.1 1428.47,1147.1 1429.47,1147.1 1430.47,1147.1 1431.47,1147.1 1432.47,1147.1 1433.47,1147.1 1434.47,1147.1 1435.47,1147.1 1436.47,1147.1 1437.47,1147.1 1438.47,1147.1 1439.47,1147.1 1440.47,1147.1 1441.47,1147.1 1442.47,1147.1 1443.47,1147.1 1444.47,1147.1 1445.47,1147.1 1446.47,1147.1 1447.47,1147.1 1448.48,1147.1 1449.48,1147.1 1450.48,1147.1 1451.48,1147.1 1452.48,1147.1 1453.48,1147.1 1454.48,1147.1 1455.48,1147.1 1456.48,1147.1 1457.48,1147.1 1458.48,1147.1 1459.48,1147.1 1460.48,1147.1 1461.48,1147.1 1462.48,1147.1 1463.48,1147.1 1464.48,1147.1 1465.48,1147.1 1466.48,1147.1 1467.48,1147.1 1468.48,1147.1 1469.48,1147.1 1470.48,1147.1 1471.48,1147.1 1472.48,1147.1 1473.48,1147.1 1474.48,1147.1 1475.48,1147.1 1476.48,1147.1 1477.48,1147.1 1478.48,1147.1 1479.48,1147.1 1480.48,1147.1 1481.48,1147.1 1482.48,1147.1 1483.48,1147.1 1484.49,1147.1 1485.49,1147.1 1486.49,1147.1 1487.49,1147.1 1488.49,1147.1 1489.49,1147.1 1490.49,1147.1 1491.49,1147.1 1492.49,1147.1 1493.49,1147.1 1494.49,1147.1 1495.49,1147.1 1496.49,1147.1 1497.49,1147.1 1498.49,1147.1 1499.49,1147.1 1500.49,1147.1 1501.49,1147.1 1502.49,1147.1 1503.49,1147.1 1504.49,1147.1 1505.49,1147.1 1506.49,1147.1 1507.49,1147.1 1508.49,1147.1 1509.49,1147.1 1510.49,1147.1 1511.49,1147.1 1512.49,1147.1 1513.49,1147.1 1514.49,1147.1 1515.49,1147.1 1516.49,1147.1 1517.49,1147.1 1518.49,1147.1 1519.49,1147.1 1520.5,1147.1 1521.5,1147.1 1522.5,1147.1 1523.5,1147.1 1524.5,1147.1 1525.5,1147.1 1526.5,1147.1 1527.5,1147.1 1528.5,1147.1 1529.5,1147.1 1530.5,1147.1 1531.5,1147.1 1532.5,1147.1 1533.5,1147.1 1534.5,1147.1 1535.5,1147.1 1536.5,1147.1 1537.5,1147.1 1538.5,1147.1"/>
<polyline stroke="#1010e8" points="1176.4,1147.1 1177.4,1147.1 1178.4,1147.1 1179.4,1147.1 1180.4,1147.1 1181.4,1147.1 1182.4,1147.1 1183.4,1147.1 1184.4,1147.1 1185.4,1147.1 1186.4,1147.1 1187.4,1147.1 1188.4,1147.1 1189.4,1147.1 1190.4,1147.1 1191.4,1147.1 1192.4,1147.1 1193.4,1147.1 1194.4,1147.1 1195.41,1147.1 1196.41,1147.1 1197.41,1147.1 1198.41,1147.1 1199.41,1147.1 1200.41,1147.1 1201.41,1147.1 1202.41,1147.1 1203.41,1147.1 1204.41,1147.1 1205.41,1147.1 1206.41,1147.1 1207.41,1147.1 1208.41,1147.1 1209.41,1147.1 1210.41,1147.1 1211.41,1147.1 1212.41,1147.1 1213.41,1147.1 1214.41,1147.1 1215.41,1147.1 1216.41,1147.1 1217.41,1147.1 1218.41,1147.1 1219.41,1147.1 1220.41,1147.1 1221.41,1147.1 1222.41,1147.1 1223.41,1147.1 1224.41,1147.1 1225.41,1147.1 1226.41,1147.1 1227.41,1147.1 1228.41,1147.1 1229.41,1147.1 1230.41,1147.1 1231.42,1147.1 1232.42,1147.1 1233.42,1147.1 1234.42,1147.1 1235.42,1147.1 1236.42,1147.1 1237.42,1147.1 1238.42,1147.1 1239.42,1147.1 1240.42,1147.1 1241.42,1147.1 1242.42,1147.1 1243.42,1147.1 1244.42,1147.1 1245.42,1147.1 1246.42,1147.1 1247.42,1147.1 1248.42,1147.1 1249.42,1147.1 1250.42,1147.1 1251.42,1147.1 1252.42,1147.1 1253.42,1147.1 1254.42,1147.1 1255.42,1147.1 1256.42,1147.1 1257.42,1147.1 1258.42,1147.1 1259.42,1147.1 1260.42,1147.1 1261.42,1147.1 1262.42,1147.1 1263.42,1147.1 1264.42,1147.1 1265.42,1147.1 1266.42,1147.1 1267.43,1147.1 1268.43,1147.1 1269.43,1147.1 1270.43,1147.1 1271.43,1147.1 1272.43,1147.1 1273.43,1147.1 1274.43,1147.1 1275.43,1147.1 1276.43,1147.1 1277.43,1147.1 1278.43,1147.1 1279.43,1147.1 1280.43,1147.1 1281.43,1147.1 1282.43,1147.1 1283.43,1147.1 1284.43,1147.1 1285.43,1147.1 1286.43,1147.1 1287.43,1147.1 1288.43,1147.1 1289.43,1147.1 1290.43,1147.1 1291.43,1147.1 1292.43,1147.1 1293.43,1147.1 1294.43,1147.1 1295.43,1147.1 1296.43,1147.1 1297.43,1147.1 1298.43,1147.1 1299.43,1147.1 1300.43,1147.1 1301.43,1147.1 1302.43,1147.1 1303.44,1147.1 1304.44,1147.1 1305.44,1147.1 1306.44,1147.1 1307.44,1147.1 1308.44,1147.1 1309.44,1147.1 1310.44,1147.1 1311.44,1147.1 1312.44,1147.1 1313.44,1147.1 1314.44,1147.1 1315.44,1147.1 1316.44,1147.1 1317.44,1147.1 1318.44,1147.1 1319.44,1147.1 1320.44,1147.1 1321.44,1147.1 1322.44,1147.1 1323.44,1147.1 1324.44,1147.1 1325.44,1147.1 1326.44,1147.1 1327.44,1147.1 1328.44,1147.1 1329.44,1147.1 1330.44,1147.1 1331.44,1147.1 1332.44,1147.1 1333.44,1147.1 1334.44,1147.1 1335.44,1147.1 1336.44,1147.09 1337.44,1147.08 1338.44,1147.06 1339.45,1147.01 1340.45,1146.91 1341.45,1146.72 1342.45,1146.39 1343.45,1145.83 1344.45,1144.95 1345.45,1143.63 1346.45,1141.76 1347.45,1139.26 1348.45,1136.12 1349.45,1132.42 1350.45,1128.32 1351.45,1124.07 1352.45,1119.95 1353.45,1116.19 1354.45,1112.91 1355.45,1111.15 1356.45,1111.93 1357.45,1113.29 1358.45,1113.31 1359.45,1111.13 1360.45,1107.16 1361.45,1102.45 1362.45,1098.17 1363.45,1095.2 1364.45,1094.09 1365.45,1094.1 1366.45,1094.1 1367.45,1094.1 1368.45,1094.1 1369.45,1094.24 1370.45,1095.54 1371.45,1098.09 1372.45,1101.72 1373.45,1106.16 1374.45,1111.11 1375.45,1116.27 1376.46,1121.38 1377.46,1126.19 1378.46,1130.53 1379.46,1134.32 1380.46,1137.49 1381.46,1140.06 1382.46,1142.07 1383.46,1143.6 1384.46,1144.73 1385.46,1145.54 1386.46,1146.09 1387.46,1146.47 1388.46,1146.72 1389.46,1146.87 1390.46,1146.97 1391.46,1147.03 1392.46,1147.06 1393.46,1147.08 1394.46,1147.09 1395.46,1147.09 1396.46,1147.1 1397.46,1147.1 1398.46,1147.1 1399.46,1147.1 1400.46,1147.1 1401.46,1147.1 1402.46,1147.1 1403.46,1147.1 1404.46,1147.1 1405.46,1147.1 1406.46,1147.1 1407.46,1147.1 1408.46,1147.1 1409.46,1147.1 1410.46,1147.1 1411.46,1147.1 1412.47,1147.1 1413.47,1147.1 1414.47,1147.1 1415.47,1147.1 1416.47,1147.1 1417.47,1147.1 1418.47,1147.1 1419.47,1147.1 1420.47,1147.1 1421.47,1147.1 1422.47,1147.1 1423.47,1147.1 1424.47,1147.1 1425.47,1147.1 1426.47,1147.1 1427.47,1147.1 1428.47,1147.1 1429.47,1147.1 1430.47,1147.1 1431.47,1147.1 1432.47,1147.1 1433.47,1147.1 1434.47,1147.1 1435.47,1147.1 1436.47,1147.1 1437.47,1147.1 1438.47,1147.1 1439.47,1147.1 1440.47,1147.1 1441.47,1147.1 1442.47,1147.1 1443.47,1147.1 1444.47,1147.1 1445.47,1147.1 1446.47,1147.1 1447.47,1147.1 1448.48,1147.1 1449.48,1147.1 1450.48,1147.1 1451.48,1147.1 1452.48,1147.1 1453.48,1147.1 1454.48,1147.1 1455.48,1147.1 1456.48,1147.1 1457.48,1147.1 1458.48,1147.1 1459.48,1147.1 1460.48,1147.1 1461.48,1147.1 1462.48,1147.1 1463.48,1147.1 1464.48,1147.1 1465.48,1147.1 1466.48,1147.1 1467.48,1147.1 1468.48,1147.1 1469.48,1147.1 1470.48,1147.1 1471.48,1147.1 1472.48,1147.1 1473.48,1147.1 1474.48,1147.1 1475.48,1147.1 1476.48,1147.1 1477.48,1147.1 1478.48,1147.1 1479.48,1147.1 1480.48,1147.1 1481.48,1147.1 1482.48,1147.1 1483.48,1147.1 1484.49,1147.1 1485.49,1147.1 1486.49,1147.1 1487.49,1147.1 1488.49,1147.1 1489.49,1147.1 1490.49,1147.1 1491.49,1147.1 1492.49,1147.1 1493.49,1147.1 1494.49,1147.1 1495.49,1147.1 1496.49,1147.1 1497.49,1147.1 1498.49,1147.1 1499.49,1147.1 1500.49,1147.1 1501.49,1147.1 1502.49,1147.1 1503.49,1147.1 1504.49,1147.1 1505.49,1147.1 1506.49,1147.1 1507.49,1147.1 1508.49,1147.1 1509.49,1147.1 1510.49,1147.1 1511.49,1147.1 1512.49,1147.1 1513.49,1147.1 1514.49,1147.1 1515.49,1147.1 1516.49,1147.1 1517.49,1147.1 1518.49,1147.1 1519.49,1147.1 1520.5,1147.1 1521.5,1147.1 1522.5,1147.1 1523.5,1147.1 1524.5,1147.1 1525.5,1147.1 1526.5,1147.1 1527.5,1147.1 1528.5,1147.1 1529.5,1147.1 1530.5,1147.1 1531.5,1147.1 1532.5,1147.1 1533.5,1147.1 1534.5,1147.1 1535.5,1147.1 1536.5,1147.1 1537.5,1147.1 1538.5,1147.1"/>
</g>
<g fill="none" stroke-width="3.4" stroke-linejoin="round">
<polyline stroke="#000" points="1710.4,1137.68 1711.4,1128.97 1712.41,1134.09 1713.41,1136.46 1714.41,1135.05 1715.41,1136.02 1716.42,1139.06 1717.42,1132.96 1718.42,1139.84 1719.42,1133.92 1720.43,1142.22 1721.43,1140.57 1722.43,1132.57 1723.43,1139.89 1724.44,1135.85 1725.44,1133.61 1726.44,1129.39 1727.44,1127.85 1728.45,1130.97 1729.45,1132.27 1730.45,1130.37 1731.45,1131.95 1732.46,1140.09 1733.46,1134.36 1734.46,1136.6 1735.46,1125.81 1736.47,1129.92 1737.47,1136.15 1738.47,1129.53 1739.47,1137.32 1740.48,1134.46 1741.48,1139.58 1742.48,1137.07 1743.48,1135.38 1744.49,1139.59 1745.49,1133.34 1746.49,1130.37 1747.49,1128.43 1748.5,1130.39 1749.5,1132.82 1750.5,1132.54 1751.5,1137.95 1752.51,1136.81 1753.51,1131.25 1754.51,1138.81 1755.51,1137.36 1756.52,1132.44 1757.52,1135.85 1758.52,1140.01 1759.52,1138.51 1760.53,1138.8 1761.53,1140.39 1762.53,1137.65 1763.53,1133.3 1764.54,1136.83 1765.54,1135.26 1766.54,1137.72 1767.54,1136.02 1768.55,1132.76 1769.55,1133.68 1770.55,1136 1771.55,1135.85 1772.56,1131.83 1773.56,1136.87 1774.56,1140.28 1775.56,1133.22 1776.57,1132.6 1777.57,1135.68 1778.57,1136.67 1779.57,1130.2 1780.58,1129.84 1781.58,1133.24 1782.58,1134.78 1783.58,1131.87 1784.59,1129.07 1785.59,1136.18 1786.59,1133.73 1787.59,1142.48 1788.6,1138.04 1789.6,1133.32 1790.6,1135.09 1791.6,1139.03 1792.61,1132.68 1793.61,1131.97 1794.61,1132.36 1795.61,1136.23 1796.62,1136.21 1797.62,1135.93 1798.62,1134.31 1799.62,1134.81 1800.62,1135.21 1801.63,1132.16 1802.63,1130.76 1803.63,1133.49 1804.64,1131.56 1805.64,1139.23 1806.64,1127.59 1807.64,1137.25 1808.65,1136.97 1809.65,1133.31 1810.65,1131.3 1811.65,1134.85 1812.66,1141.04 1813.66,1138.04 1814.66,1139.2 1815.66,1132.92 1816.67,1137.61 1817.67,1144.5 1818.67,1139.1 1819.67,1135.36 1820.68,1138.89 1821.68,1135.13 1822.68,1141.15 1823.68,1136.73 1824.69,1132.04 1825.69,1135.23 1826.69,1139.2 1827.69,1137.98 1828.7,1131.84 1829.7,1132.2 1830.7,1133.34 1831.7,1132.54 1832.71,1135.19 1833.71,1135.34 1834.71,1135.96 1835.71,1136.36 1836.72,1132.09 1837.72,1136.9 1838.72,1127.56 1839.72,1131.43 1840.73,1134.95 1841.73,1129.37 1842.73,1128.33 1843.73,1133.9 1844.74,1139.28 1845.74,1135.52 1846.74,1135.44 1847.74,1138.15 1848.75,1141.19 1849.75,1139.18 1850.75,1135.26 1851.75,1135.33 1852.76,1132.72 1853.76,1138.79 1854.76,1134.03 1855.76,1137.56 1856.77,1134.02 1857.77,1133.49 1858.77,1129.56 1859.77,1132.14 1860.78,1134.92 1861.78,1134.11 1862.78,1138.21 1863.78,1132.72 1864.79,1129.45 1865.79,1129.45 1866.79,1130.76 1867.79,1127.03 1868.8,1125.24 1869.8,1124.09 1870.8,1126.04 1871.8,1118.66 1872.81,1116.56 1873.81,1114.07 1874.81,1102.88 1875.81,1089.43 1876.82,1078.57 1877.82,1073.02 1878.82,1062.46 1879.82,1047.97 1880.83,1031.49 1881.83,1016.75 1882.83,1008.5 1883.83,997.86 1884.84,978.75 1885.84,968.95 1886.84,967.28 1887.84,967.58 1888.85,970.11 1889.85,982.46 1890.85,991.97 1891.85,1002.93 1892.86,1008.75 1893.86,1016.65 1894.86,1029.56 1895.86,1046.22 1896.87,1056.75 1897.87,1056.03 1898.87,1065.48 1899.87,1079.09 1900.88,1077.91 1901.88,1090.28 1902.88,1098.59 1903.88,1104.02 1904.89,1114.63 1905.89,1119.16 1906.89,1117.48 1907.89,1127.67 1908.9,1129.84 1909.9,1128.87 1910.9,1132.37 1911.9,1134.41 1912.91,1131.93 1913.91,1128.55 1914.91,1132.65 1915.91,1135.23 1916.92,1127.81 1917.92,1129.79 1918.92,1138.5 1919.92,1133.36 1920.93,1127.5 1921.93,1139.79 1922.93,1140.56 1923.93,1133.75 1924.94,1137.51 1925.94,1140.22 1926.94,1130.89 1927.94,1134.75 1928.95,1133.21 1929.95,1130.57 1930.95,1134.1 1931.95,1137.04 1932.96,1127.22 1933.96,1130.56 1934.96,1134.79 1935.96,1137.22 1936.97,1139.91 1937.97,1134.19 1938.97,1138.5 1939.97,1130.56 1940.98,1140.66 1941.98,1133.81 1942.98,1139.14 1943.98,1139.08 1944.99,1133.23 1945.99,1134.08 1946.99,1133.2 1947.99,1138.86 1949,1136.6 1950,1136.46 1951,1134.11 1952,1132.12 1953.01,1135.78 1954.01,1138.66 1955.01,1136.34 1956.01,1141.48 1957.02,1137.71 1958.02,1131.5 1959.02,1136.08 1960.02,1132.71 1961.03,1136.7 1962.03,1138.69 1963.03,1135.05 1964.03,1133.54 1965.04,1135.37 1966.04,1133.59 1967.04,1129.21 1968.04,1134.19 1969.05,1134.47 1970.05,1137.45 1971.05,1133.24 1972.05,1137.33 1973.06,1135.29 1974.06,1136.61 1975.06,1132.96 1976.06,1132.54 1977.07,1131.27 1978.07,1134.15 1979.07,1132.03 1980.07,1128.81 1981.08,1138.06 1982.08,1138.61 1983.08,1132.78 1984.08,1134.3 1985.09,1136.18 1986.09,1144 1987.09,1136.86 1988.09,1131.76 1989.1,1132.99 1990.1,1135.04 1991.1,1136.22 1992.1,1138.06 1993.11,1137.16 1994.11,1136.42 1995.11,1141.31 1996.11,1132.4 1997.12,1138.2 1998.12,1131.15 1999.12,1132.42 2000.12,1137.96 2001.13,1136.73 2002.13,1133.75 2003.13,1131.85 2004.13,1137.78 2005.14,1133.79 2006.14,1132.77 2007.14,1135.58 2008.14,1134.5 2009.15,1136.99 2010.15,1137.58 2011.15,1139.67 2012.15,1138.75 2013.16,1133.11 2014.16,1133.05 2015.16,1133.57 2016.16,1136.91 2017.17,1134 2018.17,1132.8 2019.17,1140.01 2020.17,1140.44 2021.18,1139.9 2022.18,1135.65 2023.18,1133.93 2024.18,1128.3 2025.19,1132.31 2026.19,1144.32 2027.19,1136.31 2028.19,1136.38 2029.2,1133.1 2030.2,1139.85 2031.2,1142.12 2032.2,1139.63 2033.21,1134.38 2034.21,1136.43 2035.21,1132.59 2036.21,1129.29 2037.22,1139 2038.22,1137.72 2039.22,1134.49 2040.22,1132.97 2041.23,1137.88 2042.23,1136.45 2043.23,1138.33 2044.23,1130.35 2045.24,1130.76 2046.24,1127.58 2047.24,1128.98 2048.24,1132.6 2049.25,1131.92 2050.25,1132.44 2051.25,1135.09 2052.25,1136.49 2053.26,1136.65 2054.26,1134.5 2055.26,1133.78 2056.26,1130.94 2057.27,1134.25 2058.27,1133.54 2059.27,1129.64 2060.27,1136.91 2061.28,1138.2 2062.28,1128.08 2063.28,1138.56 2064.28,1137.32 2065.29,1130.07 2066.29,1135.64 2067.29,1137.63 2068.29,1135.65 2069.3,1136.83 2070.3,1140.15 2071.3,1143.27"/>
<polyline stroke="#f01010" points="1710.4,1137.18 1711.4,1137.04 1712.41,1131.52 1713.41,1131.8 1714.41,1135.27 1715.41,1127.36 1716.42,1127.28 1717.42,1140.06 1718.42,1137.81 1719.42,1127.98 1720.43,1132.55 1721.43,1134.62 1722.43,1135.72 1723.43,1134.25 1724.44,1130.47 1725.44,1131.79 1726.44,1134.73 1727.44,1136.58 1728.45,1135.61 1729.45,1130.9 1730.45,1135.34 1731.45,1134.79 1732.46,1133.79 1733.46,1134.19 1734.46,1137.16 1735.46,1124.87 1736.47,1129.47 1737.47,1128.84 1738.47,1138.3 1739.47,1140.31 1740.48,1134.67 1741.48,1135.69 1742.48,1136.6 1743.48,1129.27 1744.49,1138.27 1745.49,1139.26 1746.49,1128.02 1747.49,1132.44 1748.5,1138.27 1749.5,1131.43 1750.5,1136.64 1751.5,1136.28 1752.51,1135.13 1753.51,1133.31 1754.51,1127.84 1755.51,1136.38 1756.52,1138.17 1757.52,1138.71 1758.52,1135.59 1759.52,1137.9 1760.53,1133.64 1761.53,1127.8 1762.53,1126.26 1763.53,1133.62 1764.54,1133.84 1765.54,1136.17 1766.54,1135.06 1767.54,1132.6 1768.55,1141.16 1769.55,1138.65 1770.55,1138.43 1771.55,1138.13 1772.56,1136.39 1773.56,1133.52 1774.56,1133.36 1775.56,1123.47 1776.57,1128.64 1777.57,1136.39 1778.57,1135.83 1779.57,1136.44 1780.58,1133.61 1781.58,1133.47 1782.58,1131.62 1783.58,1132.74 1784.59,1129.46 1785.59,1133.88 1786.59,1133.63 1787.59,1132.4 1788.6,1133.24 1789.6,1133.59 1790.6,1131.56 1791.6,1131.1 1792.61,1131.95 1793.61,1131.91 1794.61,1135.26 1795.61,1134.98 1796.62,1129.54 1797.62,1128.98 1798.62,1133.59 1799.62,1129.46 1800.62,1133.72 1801.63,1128.44 1802.63,1130.4 1803.63,1133.17 1804.64,1132.42 1805.64,1136.25 1806.64,1136.28 1807.64,1135.72 1808.65,1131.06 1809.65,1131.43 1810.65,1134.6 1811.65,1134.5 1812.66,1137.81 1813.66,1135.84 1814.66,1137.27 1815.66,1129.56 1816.67,1130.93 1817.67,1136.31 1818.67,1135.61 1819.67,1128.57 1820.68,1133.61 1821.68,1138.66 1822.68,1137.48 1823.68,1136.68 1824.69,1135.82 1825.69,1138.52 1826.69,1133.2 1827.69,1135.13 1828.7,1127.45 1829.7,1131 1830.7,1139.62 1831.7,1138.2 1832.71,1135.61 1833.71,1140.89 1834.71,1138.73 1835.71,1129.68 1836.72,1136.31 1837.72,1136.8 1838.72,1133.43 1839.72,1132.5 1840.73,1133 1841.73,1131.26 1842.73,1135.36 1843.73,1129.42 1844.74,1129.14 1845.74,1134.58 1846.74,1134.56 1847.74,1134.77 1848.75,1136.22 1849.75,1138.35 1850.75,1134.6 1851.75,1137.63 1852.76,1137.69 1853.76,1137.7 1854.76,1134.38 1855.76,1137.19 1856.77,1132.32 1857.77,1140.6 1858.77,1139.28 1859.77,1135.63 1860.78,1135.98 1861.78,1137.16 1862.78,1126.75 1863.78,1135.21 1864.79,1139.72 1865.79,1133.88 1866.79,1127.25 1867.79,1128.46 1868.8,1134.01 1869.8,1133.62 1870.8,1127.08 1871.8,1132.19 1872.81,1133.25 1873.81,1138.16 1874.81,1135.06 1875.81,1131.06 1876.82,1136.41 1877.82,1126.39 1878.82,1122.14 1879.82,1116.01 1880.83,1106.49 1881.83,1094.61 1882.83,1080.76 1883.83,1075.44 1884.84,1055.31 1885.84,1045.77 1886.84,1033.8 1887.84,1023.89 1888.85,1020.13 1889.85,1017.93 1890.85,1026.51 1891.85,1030.69 1892.86,1044.11 1893.86,1062.18 1894.86,1072.2 1895.86,1075.96 1896.87,1091.04 1897.87,1099.06 1898.87,1109.76 1899.87,1117.24 1900.88,1112.13 1901.88,1120.47 1902.88,1131.98 1903.88,1130.82 1904.89,1132.28 1905.89,1140.99 1906.89,1138.35 1907.89,1128.97 1908.9,1127.24 1909.9,1128.25 1910.9,1135.96 1911.9,1132.48 1912.91,1132.43 1913.91,1133.94 1914.91,1135.24 1915.91,1134.11 1916.92,1141.83 1917.92,1145.43 1918.92,1136.17 1919.92,1129.13 1920.93,1137.84 1921.93,1137.11 1922.93,1134.35 1923.93,1137.85 1924.94,1133.95 1925.94,1136.03 1926.94,1136.75 1927.94,1138.19 1928.95,1133.47 1929.95,1130.78 1930.95,1129.14 1931.95,1135.6 1932.96,1138.5 1933.96,1134.17 1934.96,1131.73 1935.96,1137.51 1936.97,1131.95 1937.97,1125.01 1938.97,1129.95 1939.97,1138.76 1940.98,1136.93 1941.98,1140.08 1942.98,1137.9 1943.98,1126.01 1944.99,1133.56 1945.99,1136 1946.99,1133.52 1947.99,1136.33 1949,1127.33 1950,1130.2 1951,1132.53 1952,1129.75 1953.01,1129.56 1954.01,1132.06 1955.01,1140.37 1956.01,1135.54 1957.02,1127.51 1958.02,1135.4 1959.02,1136.61 1960.02,1137.12 1961.03,1132.3 1962.03,1134.95 1963.03,1135.43 1964.03,1130.6 1965.04,1136.04 1966.04,1130.82 1967.04,1131.3 1968.04,1131.41 1969.05,1129.97 1970.05,1132.95 1971.05,1132.6 1972.05,1127.47 1973.06,1132.82 1974.06,1131.82 1975.06,1134.54 1976.06,1136.08 1977.07,1132.64 1978.07,1136.92 1979.07,1130.53 1980.07,1128.74 1981.08,1130.36 1982.08,1134.29 1983.08,1138.52 1984.08,1134.71 1985.09,1124.73 1986.09,1135.31 1987.09,1131.11 1988.09,1132.06 1989.1,1133.07 1990.1,1138.03 1991.1,1139.23 1992.1,1134.88 1993.11,1133.1 1994.11,1133.41 1995.11,1131.52 1996.11,1136.43 1997.12,1138.43 1998.12,1133.13 1999.12,1134.89 2000.12,1140.92 2001.13,1130.45 2002.13,1130.21 2003.13,1129.19 2004.13,1133.04 2005.14,1132.97 2006.14,1138.26 2007.14,1138.61 2008.14,1130.04 2009.15,1137.18 2010.15,1142.34 2011.15,1138.25 2012.15,1135.51 2013.16,1136.21 2014.16,1137.86 2015.16,1132.76 2016.16,1133.02 2017.17,1129.29 2018.17,1133.75 2019.17,1128.25 2020.17,1131.96 2021.18,1134 2022.18,1134.83 2023.18,1132.05 2024.18,1134.72 2025.19,1139.74 2026.19,1135.65 2027.19,1137.35 2028.19,1135.06 2029.2,1138.91 2030.2,1133.05 2031.2,1127.25 2032.2,1134.21 2033.21,1128.02 2034.21,1134.03 2035.21,1137.36 2036.21,1133.06 2037.22,1127.84 2038.22,1137.65 2039.22,1135.8 2040.22,1128.53 2041.23,1133.72 2042.23,1134.32 2043.23,1141.24 2044.23,1134.84 2045.24,1140.47 2046.24,1135.89 2047.24,1131.61 2048.24,1139.24 2049.25,1136.08 2050.25,1126.38 2051.25,1128.98 2052.25,1130.91 2053.26,1130.44 2054.26,1131.11 2055.26,1129.51 2056.26,1136.92 2057.27,1130.17 2058.27,1133.91 2059.27,1136.26 2060.27,1135.81 2061.28,1141.73 2062.28,1135.06 2063.28,1136.82 2064.28,1129.04 2065.29,1134.4 2066.29,1127.83 2067.29,1128.54 2068.29,1124.85 2069.3,1131.55 2070.3,1133.75 2071.3,1139.87"/>
<polyline stroke="#1010e8" points="1710.4,1137.14 1711.4,1134.82 1712.41,1136.04 1713.41,1134.74 1714.41,1130.98 1715.41,1132.7 1716.42,1132.18 1717.42,1131.58 1718.42,1129.29 1719.42,1135.56 1720.43,1136.16 1721.43,1136.46 1722.43,1135.79 1723.43,1133.58 1724.44,1133.76 1725.44,1133.56 1726.44,1141.48 1727.44,1139.36 1728.45,1136.2 1729.45,1131.82 1730.45,1132.8 1731.45,1129.57 1732.46,1130.6 1733.46,1134.43 1734.46,1138.43 1735.46,1137.78 1736.47,1134.67 1737.47,1140.14 1738.47,1131.95 1739.47,1128.07 1740.48,1129.64 1741.48,1126.77 1742.48,1128.85 1743.48,1132.37 1744.49,1127.42 1745.49,1133.9 1746.49,1130.47 1747.49,1141.69 1748.5,1135.87 1749.5,1137.57 1750.5,1133.7 1751.5,1136 1752.51,1133.38 1753.51,1130.54 1754.51,1133.91 1755.51,1131.86 1756.52,1131.43 1757.52,1135.72 1758.52,1142.3 1759.52,1142.73 1760.53,1139.24 1761.53,1131.84 1762.53,1125.85 1763.53,1132.39 1764.54,1135.35 1765.54,1130.33 1766.54,1131.42 1767.54,1136.4 1768.55,1131.98 1769.55,1133.94 1770.55,1136.01 1771.55,1133.39 1772.56,1129.91 1773.56,1130.39 1774.56,1130.18 1775.56,1135.47 1776.57,1134.84 1777.57,1129.22 1778.57,1127.57 1779.57,1126.17 1780.58,1129.13 1781.58,1135.03 1782.58,1134.35 1783.58,1126.72 1784.59,1131.09 1785.59,1127.3 1786.59,1132.48 1787.59,1138.79 1788.6,1135.09 1789.6,1130.99 1790.6,1127.66 1791.6,1132.02 1792.61,1127.96 1793.61,1128.16 1794.61,1133.54 1795.61,1131.8 1796.62,1131.79 1797.62,1138.13 1798.62,1130.42 1799.62,1132.31 1800.62,1137.07 1801.63,1137.02 1802.63,1136.03 1803.63,1136.74 1804.64,1133.2 1805.64,1130.3 1806.64,1134.38 1807.64,1134.93 1808.65,1129.11 1809.65,1132.13 1810.65,1132.59 1811.65,1139.09 1812.66,1132.37 1813.66,1134.69 1814.66,1131.72 1815.66,1133.58 1816.67,1128.97 1817.67,1132.57 1818.67,1129.26 1819.67,1133.76 1820.68,1134.06 1821.68,1135.41 1822.68,1127.67 1823.68,1130.19 1824.69,1126.87 1825.69,1128.58 1826.69,1131.64 1827.69,1137.32 1828.7,1131.39 1829.7,1131.21 1830.7,1134.06 1831.7,1139.28 1832.71,1130.91 1833.71,1139.82 1834.71,1136.09 1835.71,1143.97 1836.72,1136.05 1837.72,1126.86 1838.72,1129.09 1839.72,1132.61 1840.73,1131.46 1841.73,1136.78 1842.73,1133.31 1843.73,1125.18 1844.74,1132.47 1845.74,1134.27 1846.74,1136.05 1847.74,1132.82 1848.75,1129.68 1849.75,1133.57 1850.75,1131.18 1851.75,1131.89 1852.76,1130.68 1853.76,1133.27 1854.76,1132.31 1855.76,1135.12 1856.77,1125.32 1857.77,1130.23 1858.77,1136.02 1859.77,1126.25 1860.78,1134.29 1861.78,1132.72 1862.78,1132.98 1863.78,1134.94 1864.79,1129.8 1865.79,1132 1866.79,1133.58 1867.79,1136.25 1868.8,1139.75 1869.8,1133.81 1870.8,1127.1 1871.8,1131.28 1872.81,1134.09 1873.81,1135.04 1874.81,1134.83 1875.81,1130.14 1876.82,1129.38 1877.82,1125.04 1878.82,1120.69 1879.82,1112.9 1880.83,1111.47 1881.83,1110.2 1882.83,1102.08 1883.83,1097.5 1884.84,1090.32 1885.84,1103.14 1886.84,1099.59 1887.84,1100.33 1888.85,1085.35 1889.85,1078.47 1890.85,1071.73 1891.85,1073.89 1892.86,1072.15 1893.86,1081.7 1894.86,1077.15 1895.86,1076.83 1896.87,1071.91 1897.87,1075.68 1898.87,1073.01 1899.87,1082.89 1900.88,1085.17 1901.88,1076.95 1902.88,1087.31 1903.88,1092.11 1904.89,1097.19 1905.89,1105.39 1906.89,1113.81 1907.89,1121.78 1908.9,1127.37 1909.9,1123.73 1910.9,1129.56 1911.9,1134.8 1912.91,1128.58 1913.91,1130.16 1914.91,1141.53 1915.91,1141.45 1916.92,1134.43 1917.92,1128.81 1918.92,1136.68 1919.92,1138.45 1920.93,1129.43 1921.93,1138.72 1922.93,1131.21 1923.93,1135.49 1924.94,1130.86 1925.94,1131.29 1926.94,1132.25 1927.94,1130.06 1928.95,1134.66 1929.95,1134.77 1930.95,1137.59 1931.95,1135.3 1932.96,1137.5 1933.96,1131.75 1934.96,1130.88 1935.96,1134.65 1936.97,1134.99 1937.97,1132.52 1938.97,1134.67 1939.97,1140.53 1940.98,1137.26 1941.98,1134.35 1942.98,1134.76 1943.98,1128.78 1944.99,1129.5 1945.99,1134.11 1946.99,1132.17 1947.99,1128.99 1949,1128.66 1950,1129.86 1951,1132.12 1952,1130.94 1953.01,1133.93 1954.01,1133.16 1955.01,1133.93 1956.01,1132.99 1957.02,1132.35 1958.02,1134.48 1959.02,1137.96 1960.02,1134.33 1961.03,1139.84 1962.03,1134.92 1963.03,1135.26 1964.03,1134.51 1965.04,1133.14 1966.04,1132.85 1967.04,1137.66 1968.04,1140.96 1969.05,1132.05 1970.05,1128.33 1971.05,1133.77 1972.05,1138.22 1973.06,1129.29 1974.06,1131.61 1975.06,1136.5 1976.06,1141.65 1977.07,1131 1978.07,1125.28 1979.07,1133.32 1980.07,1135.61 1981.08,1133.26 1982.08,1131.73 1983.08,1135.07 1984.08,1136.78 1985.09,1135.66 1986.09,1132.18 1987.09,1136.64 1988.09,1138.06 1989.1,1129.61 1990.1,1136.48 1991.1,1146.12 1992.1,1133.72 1993.11,1132.18 1994.11,1135.63 1995.11,1136.96 1996.11,1131.21 1997.12,1134.82 1998.12,1129.72 1999.12,1131.62 2000.12,1132.2 2001.13,1126.61 2002.13,1130.88 2003.13,1139.13 2004.13,1130.4 2005.14,1129.49 2006.14,1128.43 2007.14,1123.13 2008.14,1128.32 2009.15,1128.84 2010.15,1133.61 2011.15,1136.05 2012.15,1135.46 2013.16,1134.13 2014.16,1130.64 2015.16,1131.53 2016.16,1129.6 2017.17,1131.61 2018.17,1137.74 2019.17,1141.29 2020.17,1134.18 2021.18,1129.57 2022.18,1134.38 2023.18,1136.64 2024.18,1134.61 2025.19,1130.14 2026.19,1131.66 2027.19,1136.03 2028.19,1133.9 2029.2,1135.52 2030.2,1134.35 2031.2,1130.76 2032.2,1132.39 2033.21,1132.07 2034.21,1137.67 2035.21,1131.08 2036.21,1140.2 2037.22,1143.9 2038.22,1135.62 2039.22,1130.77 2040.22,1132.15 2041.23,1128.53 2042.23,1127.51 2043.23,1128.34 2044.23,1133.57 2045.24,1133.62 2046.24,1137.12 2047.24,1133.94 2048.24,1131.94 2049.25,1131.33 2050.25,1140.83 2051.25,1145.86 2052.25,1137.52 2053.26,1134.93 2054.26,1130.46 2055.26,1132.26 2056.26,1132.51 2057.27,1130.04 2058.27,1135.45 2059.27,1132.28 2060.27,1127.98 2061.28,1124.9 2062.28,1127.19 2063.28,1133.79 2064.28,1129.82 2065.29,1134.82 2066.29,1134.49 2067.29,1137.81 2068.29,1138.47 2069.3,1140.1 2070.3,1136.92 2071.3,1140.16"/>
</g>
<g fill="#f01010" stroke="none">
<circle cx="282.1" cy="820" r="2.8"/>
<circle cx="283.7" cy="823.2" r="2.8"/>
<circle cx="284.9" cy="829.9" r="2.8"/>
<circle cx="286.4" cy="843.1" r="2.8"/>
<circle cx="287.7" cy="857.7" r="2.8"/>
<circle cx="290" cy="868" r="2.8"/>
<circle cx="290.6" cy="869.6" r="2.8"/>
<circle cx="291.84" cy="867.11" r="2.8"/>
<circle cx="293.09" cy="864.63" r="2.8"/>
<circle cx="294.33" cy="862.14" r="2.8"/>
<circle cx="295.57" cy="859.66" r="2.8"/>
<circle cx="296.81" cy="857.17" r="2.8"/>
<circle cx="298.06" cy="854.69" r="2.8"/>
<circle cx="299.3" cy="852.2" r="2.8"/>
<circle cx="300.54" cy="849.71" r="2.8"/>
<circle cx="301.79" cy="847.23" r="2.8"/>
<circle cx="303.03" cy="844.74" r="2.8"/>
<circle cx="304.27" cy="842.26" r="2.8"/>
<circle cx="305.51" cy="839.77" r="2.8"/>
<circle cx="306.76" cy="837.29" r="2.8"/>
<circle cx="308" cy="834.8" r="2.8"/>
<circle cx="818.4" cy="828.8" r="2.8"/>
<circle cx="819.8" cy="842.7" r="2.8"/>
<circle cx="820.8" cy="856.7" r="2.8"/>
<circle cx="822" cy="858" r="2.8"/>
<circle cx="823.2" cy="865.6" r="2.8"/>
<circle cx="823.5" cy="865.1" r="2.8"/>
<circle cx="824.86" cy="862.68" r="2.8"/>
<circle cx="826.22" cy="860.27" r="2.8"/>
<circle cx="827.58" cy="857.85" r="2.8"/>
<circle cx="828.93" cy="855.43" r="2.8"/>
<circle cx="830.29" cy="853.02" r="2.8"/>
<circle cx="831.65" cy="850.6" r="2.8"/>
<circle cx="833.01" cy="848.18" r="2.8"/>
<circle cx="834.37" cy="845.77" r="2.8"/>
<circle cx="835.72" cy="843.35" r="2.8"/>
<circle cx="837.08" cy="840.93" r="2.8"/>
<circle cx="838.44" cy="838.52" r="2.8"/>
<circle cx="839.8" cy="836.1" r="2.8"/>
<circle cx="1349" cy="821.3" r="2.8"/>
<circle cx="1350.8" cy="826.4" r="2.8"/>
<circle cx="1351.9" cy="834" r="2.8"/>
<circle cx="1353.2" cy="847.7" r="2.8"/>
<circle cx="1354.3" cy="860.1" r="2.8"/>
<circle cx="1355.5" cy="862" r="2.8"/>
<circle cx="1356.6" cy="868" r="2.8"/>
<circle cx="1356.6" cy="868" r="2.8"/>
<circle cx="1357.84" cy="865.89" r="2.8"/>
<circle cx="1359.09" cy="863.79" r="2.8"/>
<circle cx="1360.33" cy="861.68" r="2.8"/>
<circle cx="1361.57" cy="859.57" r="2.8"/>
<circle cx="1362.81" cy="857.46" r="2.8"/>
<circle cx="1364.06" cy="855.36" r="2.8"/>
<circle cx="1365.3" cy="853.25" r="2.8"/>
<circle cx="1366.54" cy="851.14" r="2.8"/>
<circle cx="1367.79" cy="849.04" r="2.8"/>
<circle cx="1369.03" cy="846.93" r="2.8"/>
<circle cx="1370.27" cy="844.82" r="2.8"/>
<circle cx="1371.51" cy="842.71" r="2.8"/>
<circle cx="1372.76" cy="840.61" r="2.8"/>
<circle cx="1374" cy="838.5" r="2.8"/>
</g>
<g stroke="#d01010" stroke-width="1.3">
<line x1="1878.9" y1="805.1" x2="1878.9" y2="834.1" stroke="#c01010" stroke-width="1.3" stroke-linecap="butt"/>
<line x1="1879.9" y1="824" x2="1879.9" y2="840" stroke="#c01010" stroke-width="1.3" stroke-linecap="butt"/>
<line x1="1881.3" y1="844.4" x2="1881.3" y2="862.4" stroke="#c01010" stroke-width="1.3" stroke-linecap="butt"/>
<line x1="1883.2" y1="863.3" x2="1883.2" y2="875.3" stroke="#c01010" stroke-width="1.3" stroke-linecap="butt"/>
<line x1="1884.5" y1="859.5" x2="1884.5" y2="869.5" stroke="#c01010" stroke-width="1.3" stroke-linecap="butt"/>
<line x1="1886.3" y1="855.2" x2="1886.3" y2="865.2" stroke="#c01010" stroke-width="1.3" stroke-linecap="butt"/>
<line x1="1888.5" y1="851.5" x2="1888.5" y2="861.5" stroke="#c01010" stroke-width="1.3" stroke-linecap="butt"/>
<line x1="1890.5" y1="848" x2="1890.5" y2="858" stroke="#c01010" stroke-width="1.3" stroke-linecap="butt"/>
<line x1="1892.5" y1="845" x2="1892.5" y2="855" stroke="#c01010" stroke-width="1.3" stroke-linecap="butt"/>
<line x1="1894.4" y1="841.7" x2="1894.4" y2="853.7" stroke="#c01010" stroke-width="1.3" stroke-linecap="butt"/>
<line x1="1896.5" y1="836.6" x2="1896.5" y2="848.6" stroke="#c01010" stroke-width="1.3" stroke-linecap="butt"/>
<line x1="1898.4" y1="814" x2="1898.4" y2="839" stroke="#c01010" stroke-width="1.3" stroke-linecap="butt"/>
</g>
<polyline fill="none" stroke="#f01010" stroke-width="1.2" points="1878.9,819.6 1879.9,832 1881.3,853.4 1883.2,869.3 1884.5,864.5 1886.3,860.2 1888.5,856.5 1890.5,853 1892.5,850 1894.4,847.7 1896.5,842.6 1898.4,826.5"/>
<g fill="#f01010">
<circle cx="1878.9" cy="819.6" r="2.7"/>
<circle cx="1879.9" cy="832" r="2.7"/>
<circle cx="1881.3" cy="853.4" r="2.7"/>
<circle cx="1883.2" cy="869.3" r="2.7"/>
<circle cx="1884.5" cy="864.5" r="2.7"/>
<circle cx="1886.3" cy="860.2" r="2.7"/>
<circle cx="1888.5" cy="856.5" r="2.7"/>
<circle cx="1890.5" cy="853" r="2.7"/>
<circle cx="1892.5" cy="850" r="2.7"/>
<circle cx="1894.4" cy="847.7" r="2.7"/>
<circle cx="1896.5" cy="842.6" r="2.7"/>
<circle cx="1898.4" cy="826.5" r="2.7"/>
</g>
</svg>
</body></html>
